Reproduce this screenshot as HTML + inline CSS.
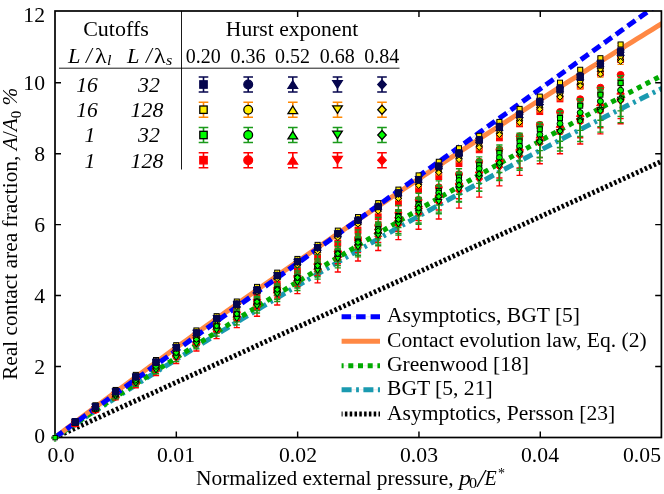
<!DOCTYPE html>
<html><head><meta charset="utf-8"><title>chart</title>
<style>
html,body{margin:0;padding:0;background:#fff;}
body{width:664px;height:494px;position:relative;overflow:hidden;font-family:"Liberation Serif",serif;color:#000;}
.t{position:absolute;white-space:nowrap;line-height:1;font-family:"Liberation Serif",serif;}
#tx{position:absolute;left:0;top:0;width:664px;height:494px;filter:grayscale(100%);}
.sub{font-size:70%;position:relative;top:0.28em;line-height:0;}
.sup{font-size:70%;position:relative;top:-0.45em;line-height:0;}
</style></head><body>
<svg width="664" height="494" viewBox="0 0 664 494" style="position:absolute;left:0;top:0">
<defs><clipPath id="cp"><rect x="54.2" y="10.2" width="607.6" height="428.2"/></clipPath></defs>
<rect x="0" y="0" width="664" height="494" fill="#fff"/>
<g clip-path="url(#cp)" fill="none">
<polyline points="55.00,437.50 60.06,435.17 65.12,432.84 70.18,430.52 75.24,428.20 80.30,425.88 85.36,423.57 90.42,421.26 95.48,418.96 100.54,416.65 105.60,414.35 110.66,412.05 115.72,409.75 120.78,407.46 125.84,405.16 130.90,402.87 135.96,400.57 141.02,398.28 146.08,395.99 151.14,393.70 156.20,391.41 161.26,389.12 166.32,386.84 171.38,384.55 176.44,382.26 181.50,379.95 186.56,377.65 191.62,375.34 196.68,373.03 201.74,370.73 206.80,368.42 211.86,366.12 216.92,363.81 221.98,361.51 227.04,359.20 232.10,356.90 237.16,354.59 242.22,352.29 247.28,349.98 252.34,347.68 257.40,345.38 262.46,343.07 267.52,340.77 272.58,338.46 277.64,336.16 282.70,333.86 287.76,331.55 292.82,329.25 297.88,326.95 302.94,324.64 308.00,322.34 313.07,320.04 318.13,317.73 323.19,315.43 328.25,313.12 333.31,310.82 338.37,308.52 343.43,306.21 348.49,303.91 353.55,301.61 358.61,299.30 363.67,297.00 368.73,294.70 373.79,292.39 378.85,290.09 383.91,287.79 388.97,285.48 394.03,283.18 399.09,280.88 404.15,278.58 409.21,276.27 414.27,273.97 419.33,271.67 424.39,269.36 429.45,267.06 434.51,264.76 439.57,262.45 444.63,260.15 449.69,257.85 454.75,255.54 459.81,253.24 464.87,250.94 469.93,248.63 474.99,246.33 480.05,244.03 485.11,241.72 490.17,239.42 495.23,237.12 500.29,234.81 505.35,232.51 510.41,230.21 515.47,227.90 520.53,225.60 525.59,223.30 530.65,220.99 535.71,218.69 540.77,216.39 545.83,214.08 550.89,211.78 555.95,209.48 561.01,207.17 566.07,204.87 571.13,202.57 576.19,200.27 581.25,197.96 586.31,195.66 591.37,193.36 596.43,191.05 601.49,188.75 606.55,186.45 611.61,184.14 616.67,181.84 621.73,179.54 626.79,177.23 631.85,174.93 636.91,172.63 641.97,170.32 647.03,168.02 652.09,165.72 657.15,163.41 662.21,161.11" stroke="#e4e4e4" stroke-width="0.45"/>
<polyline points="55.00,437.50 60.06,434.13 65.12,430.78 70.18,427.44 75.24,424.10 80.30,420.78 85.36,417.47 90.42,414.17 95.48,410.88 100.54,407.59 105.60,404.32 110.66,401.06 115.72,397.80 120.78,394.55 125.84,391.31 130.90,388.08 135.96,384.86 141.02,381.64 146.08,378.43 151.14,375.23 156.20,372.04 161.26,368.86 166.32,365.68 171.38,362.51 176.44,359.35 181.50,356.19 186.56,353.04 191.62,349.90 196.68,346.77 201.74,343.64 206.80,340.53 211.86,337.41 216.92,334.31 221.98,331.21 227.04,328.12 232.10,325.04 237.16,321.96 242.22,318.89 247.28,315.83 252.34,312.77 257.40,309.72 262.46,306.68 267.52,303.65 272.58,300.62 277.64,297.60 282.70,294.59 287.76,291.58 292.82,288.58 297.88,285.59 302.94,282.60 308.00,279.62 313.07,276.65 318.13,273.68 323.19,270.73 328.25,267.77 333.31,264.83 338.37,261.89 343.43,258.96 348.49,256.04 353.55,253.12 358.61,250.21 363.67,247.31 368.73,244.41 373.79,241.52 378.85,238.64 383.91,235.77 388.97,232.90 394.03,230.04 399.09,227.18 404.15,224.33 409.21,221.49 414.27,218.66 419.33,215.83 424.39,213.01 429.45,210.20 434.51,207.39 439.57,204.59 444.63,201.80 449.69,199.01 454.75,196.23 459.81,193.46 464.87,190.70 469.93,187.94 474.99,185.19 480.05,182.44 485.11,179.71 490.17,176.97 495.23,174.25 500.29,171.53 505.35,168.82 510.41,166.12 515.47,163.43 520.53,160.74 525.59,158.05 530.65,155.38 535.71,152.71 540.77,150.05 545.83,147.39 550.89,144.75 555.95,142.10 561.01,139.47 566.07,136.84 571.13,134.22 576.19,131.61 581.25,129.00 586.31,126.40 591.37,123.81 596.43,121.22 601.49,118.65 606.55,116.07 611.61,113.51 616.67,110.95 621.73,108.40 626.79,105.85 631.85,103.32 636.91,100.79 641.97,98.26 647.03,95.75 652.09,93.24 657.15,90.73 662.21,88.24" stroke="#e4e4e4" stroke-width="0.45"/>
<polyline points="55.00,437.50 60.06,434.07 65.12,430.65 70.18,427.24 75.24,423.84 80.30,420.45 85.36,417.07 90.42,413.70 95.48,410.33 100.54,406.98 105.60,403.63 110.66,400.30 115.72,396.97 120.78,393.64 125.84,390.33 130.90,387.02 135.96,383.72 141.02,380.43 146.08,377.15 151.14,373.87 156.20,370.60 161.26,367.33 166.32,364.07 171.38,360.82 176.44,357.58 181.50,354.34 186.56,351.11 191.62,347.89 196.68,344.67 201.74,341.46 206.80,338.25 211.86,335.05 216.92,331.86 221.98,328.67 227.04,325.50 232.10,322.32 237.16,319.16 242.22,315.99 247.28,312.84 252.34,309.69 257.40,306.55 262.46,303.42 267.52,300.29 272.58,297.16 277.64,294.05 282.70,290.94 287.76,287.83 292.82,284.74 297.88,281.64 302.94,278.56 308.00,275.48 313.07,272.41 318.13,269.34 323.19,266.28 328.25,263.22 333.31,260.18 338.37,257.13 343.43,254.10 348.49,251.07 353.55,248.05 358.61,245.03 363.67,242.02 368.73,239.01 373.79,236.01 378.85,233.02 383.91,230.04 388.97,227.06 394.03,224.08 399.09,221.11 404.15,218.15 409.21,215.20 414.27,212.25 419.33,209.31 424.39,206.37 429.45,203.44 434.51,200.52 439.57,197.60 444.63,194.69 449.69,191.78 454.75,188.88 459.81,185.99 464.87,183.10 469.93,180.22 474.99,177.34 480.05,174.48 485.11,171.61 490.17,168.76 495.23,165.91 500.29,163.06 505.35,160.23 510.41,157.40 515.47,154.57 520.53,151.75 525.59,148.94 530.65,146.13 535.71,143.33 540.77,140.54 545.83,137.75 550.89,134.97 555.95,132.19 561.01,129.42 566.07,126.66 571.13,123.90 576.19,121.15 581.25,118.41 586.31,115.67 591.37,112.94 596.43,110.21 601.49,107.49 606.55,104.78 611.61,102.07 616.67,99.37 621.73,96.67 626.79,93.98 631.85,91.30 636.91,88.62 641.97,85.95 647.03,83.29 652.09,80.63 657.15,77.98 662.21,75.33" stroke="#e4e4e4" stroke-width="0.45"/>
<polyline points="55.00,437.50 60.06,433.84 65.12,430.18 70.18,426.52 75.24,422.87 80.30,419.22 85.36,415.58 90.42,411.94 95.48,408.30 100.54,404.66 105.60,401.03 110.66,397.39 115.72,393.76 120.78,390.13 125.84,386.51 130.90,382.88 135.96,379.26 141.02,375.63 146.08,372.01 151.14,368.39 156.20,364.76 161.26,361.14 166.32,357.52 171.38,353.90 176.44,350.28 181.50,346.64 186.56,343.00 191.62,339.36 196.68,335.73 201.74,332.09 206.80,328.45 211.86,324.81 216.92,321.17 221.98,317.54 227.04,313.90 232.10,310.26 237.16,306.63 242.22,302.99 247.28,299.35 252.34,295.72 257.40,292.08 262.46,288.44 267.52,284.81 272.58,281.17 277.64,277.53 282.70,273.90 287.76,270.26 292.82,266.63 297.88,262.99 302.94,259.35 308.00,255.72 313.07,252.08 318.13,248.45 323.19,244.81 328.25,241.17 333.31,237.54 338.37,233.90 343.43,230.27 348.49,226.63 353.55,222.99 358.61,219.36 363.67,215.72 368.73,212.09 373.79,208.45 378.85,204.82 383.91,201.18 388.97,197.54 394.03,193.91 399.09,190.27 404.15,186.64 409.21,183.00 414.27,179.37 419.33,175.73 424.39,172.09 429.45,168.46 434.51,164.82 439.57,161.19 444.63,157.55 449.69,153.92 454.75,150.28 459.81,146.64 464.87,143.01 469.93,139.37 474.99,135.74 480.05,132.10 485.11,128.47 490.17,124.83 495.23,121.20 500.29,117.56 505.35,113.92 510.41,110.29 515.47,106.65 520.53,103.02 525.59,99.38 530.65,95.75 535.71,92.11 540.77,88.47 545.83,84.84 550.89,81.20 555.95,77.57 561.01,73.93 566.07,70.30 571.13,66.66 576.19,63.02 581.25,59.39 586.31,55.75 591.37,52.12 596.43,48.48 601.49,44.85 606.55,41.21 611.61,37.58 616.67,33.94 621.73,30.30 626.79,26.67 631.85,23.03 636.91,19.40 641.97,15.76 647.03,12.13 652.09,8.49 657.15,4.85 662.21,1.22" stroke="#b8b8b8" stroke-width="0.45"/>
<polyline points="55.00,437.50 60.06,435.17 65.12,432.84 70.18,430.52 75.24,428.20 80.30,425.88 85.36,423.57 90.42,421.26 95.48,418.96 100.54,416.65 105.60,414.35 110.66,412.05 115.72,409.75 120.78,407.46 125.84,405.16 130.90,402.87 135.96,400.57 141.02,398.28 146.08,395.99 151.14,393.70 156.20,391.41 161.26,389.12 166.32,386.84 171.38,384.55 176.44,382.26 181.50,379.95 186.56,377.65 191.62,375.34 196.68,373.03 201.74,370.73 206.80,368.42 211.86,366.12 216.92,363.81 221.98,361.51 227.04,359.20 232.10,356.90 237.16,354.59 242.22,352.29 247.28,349.98 252.34,347.68 257.40,345.38 262.46,343.07 267.52,340.77 272.58,338.46 277.64,336.16 282.70,333.86 287.76,331.55 292.82,329.25 297.88,326.95 302.94,324.64 308.00,322.34 313.07,320.04 318.13,317.73 323.19,315.43 328.25,313.12 333.31,310.82 338.37,308.52 343.43,306.21 348.49,303.91 353.55,301.61 358.61,299.30 363.67,297.00 368.73,294.70 373.79,292.39 378.85,290.09 383.91,287.79 388.97,285.48 394.03,283.18 399.09,280.88 404.15,278.58 409.21,276.27 414.27,273.97 419.33,271.67 424.39,269.36 429.45,267.06 434.51,264.76 439.57,262.45 444.63,260.15 449.69,257.85 454.75,255.54 459.81,253.24 464.87,250.94 469.93,248.63 474.99,246.33 480.05,244.03 485.11,241.72 490.17,239.42 495.23,237.12 500.29,234.81 505.35,232.51 510.41,230.21 515.47,227.90 520.53,225.60 525.59,223.30 530.65,220.99 535.71,218.69 540.77,216.39 545.83,214.08 550.89,211.78 555.95,209.48 561.01,207.17 566.07,204.87 571.13,202.57 576.19,200.27 581.25,197.96 586.31,195.66 591.37,193.36 596.43,191.05 601.49,188.75 606.55,186.45 611.61,184.14 616.67,181.84 621.73,179.54 626.79,177.23 631.85,174.93 636.91,172.63 641.97,170.32 647.03,168.02 652.09,165.72 657.15,163.41 662.21,161.11" stroke="#000" stroke-width="5" stroke-dasharray="2.5 2.3"/>
<polyline points="55.00,437.50 60.06,434.13 65.12,430.78 70.18,427.44 75.24,424.10 80.30,420.78 85.36,417.47 90.42,414.17 95.48,410.88 100.54,407.59 105.60,404.32 110.66,401.06 115.72,397.80 120.78,394.55 125.84,391.31 130.90,388.08 135.96,384.86 141.02,381.64 146.08,378.43 151.14,375.23 156.20,372.04 161.26,368.86 166.32,365.68 171.38,362.51 176.44,359.35 181.50,356.19 186.56,353.04 191.62,349.90 196.68,346.77 201.74,343.64 206.80,340.53 211.86,337.41 216.92,334.31 221.98,331.21 227.04,328.12 232.10,325.04 237.16,321.96 242.22,318.89 247.28,315.83 252.34,312.77 257.40,309.72 262.46,306.68 267.52,303.65 272.58,300.62 277.64,297.60 282.70,294.59 287.76,291.58 292.82,288.58 297.88,285.59 302.94,282.60 308.00,279.62 313.07,276.65 318.13,273.68 323.19,270.73 328.25,267.77 333.31,264.83 338.37,261.89 343.43,258.96 348.49,256.04 353.55,253.12 358.61,250.21 363.67,247.31 368.73,244.41 373.79,241.52 378.85,238.64 383.91,235.77 388.97,232.90 394.03,230.04 399.09,227.18 404.15,224.33 409.21,221.49 414.27,218.66 419.33,215.83 424.39,213.01 429.45,210.20 434.51,207.39 439.57,204.59 444.63,201.80 449.69,199.01 454.75,196.23 459.81,193.46 464.87,190.70 469.93,187.94 474.99,185.19 480.05,182.44 485.11,179.71 490.17,176.97 495.23,174.25 500.29,171.53 505.35,168.82 510.41,166.12 515.47,163.43 520.53,160.74 525.59,158.05 530.65,155.38 535.71,152.71 540.77,150.05 545.83,147.39 550.89,144.75 555.95,142.10 561.01,139.47 566.07,136.84 571.13,134.22 576.19,131.61 581.25,129.00 586.31,126.40 591.37,123.81 596.43,121.22 601.49,118.65 606.55,116.07 611.61,113.51 616.67,110.95 621.73,108.40 626.79,105.85 631.85,103.32 636.91,100.79 641.97,98.26 647.03,95.75 652.09,93.24 657.15,90.73 662.21,88.24" stroke="#1a9ab0" stroke-width="5" stroke-dasharray="10 4.5 2.8 4.5"/>
<polyline points="55.00,437.50 60.06,434.07 65.12,430.65 70.18,427.24 75.24,423.84 80.30,420.45 85.36,417.07 90.42,413.70 95.48,410.33 100.54,406.98 105.60,403.63 110.66,400.30 115.72,396.97 120.78,393.64 125.84,390.33 130.90,387.02 135.96,383.72 141.02,380.43 146.08,377.15 151.14,373.87 156.20,370.60 161.26,367.33 166.32,364.07 171.38,360.82 176.44,357.58 181.50,354.34 186.56,351.11 191.62,347.89 196.68,344.67 201.74,341.46 206.80,338.25 211.86,335.05 216.92,331.86 221.98,328.67 227.04,325.50 232.10,322.32 237.16,319.16 242.22,315.99 247.28,312.84 252.34,309.69 257.40,306.55 262.46,303.42 267.52,300.29 272.58,297.16 277.64,294.05 282.70,290.94 287.76,287.83 292.82,284.74 297.88,281.64 302.94,278.56 308.00,275.48 313.07,272.41 318.13,269.34 323.19,266.28 328.25,263.22 333.31,260.18 338.37,257.13 343.43,254.10 348.49,251.07 353.55,248.05 358.61,245.03 363.67,242.02 368.73,239.01 373.79,236.01 378.85,233.02 383.91,230.04 388.97,227.06 394.03,224.08 399.09,221.11 404.15,218.15 409.21,215.20 414.27,212.25 419.33,209.31 424.39,206.37 429.45,203.44 434.51,200.52 439.57,197.60 444.63,194.69 449.69,191.78 454.75,188.88 459.81,185.99 464.87,183.10 469.93,180.22 474.99,177.34 480.05,174.48 485.11,171.61 490.17,168.76 495.23,165.91 500.29,163.06 505.35,160.23 510.41,157.40 515.47,154.57 520.53,151.75 525.59,148.94 530.65,146.13 535.71,143.33 540.77,140.54 545.83,137.75 550.89,134.97 555.95,132.19 561.01,129.42 566.07,126.66 571.13,123.90 576.19,121.15 581.25,118.41 586.31,115.67 591.37,112.94 596.43,110.21 601.49,107.49 606.55,104.78 611.61,102.07 616.67,99.37 621.73,96.67 626.79,93.98 631.85,91.30 636.91,88.62 641.97,85.95 647.03,83.29 652.09,80.63 657.15,77.98 662.21,75.33" stroke="#00aa00" stroke-width="5" stroke-dasharray="5 4.7"/>
<polyline points="55.00,437.50 60.06,433.65 65.12,429.81 70.18,425.98 75.24,422.16 80.30,418.36 85.36,414.56 90.42,410.76 95.48,406.98 100.54,403.21 105.60,399.44 110.66,395.68 115.72,391.93 120.78,388.19 125.84,384.45 130.90,380.73 135.96,377.00 141.02,373.29 146.08,369.58 151.14,365.88 156.20,362.19 161.26,358.50 166.32,354.82 171.38,351.14 176.44,347.48 181.50,343.81 186.56,340.16 191.62,336.51 196.68,332.87 201.74,329.23 206.80,325.60 211.86,321.98 216.92,318.36 221.98,314.75 227.04,311.14 232.10,307.54 237.16,303.95 242.22,300.36 247.28,296.78 252.34,293.20 257.40,289.63 262.46,286.07 267.52,282.51 272.58,278.96 277.64,275.42 282.70,271.88 287.76,268.34 292.82,264.82 297.88,261.30 302.94,257.78 308.00,254.27 313.07,250.77 318.13,247.27 323.19,243.78 328.25,240.29 333.31,236.81 338.37,233.34 343.43,229.87 348.49,226.41 353.55,222.96 358.61,219.51 363.67,216.06 368.73,212.62 373.79,209.19 378.85,205.77 383.91,202.35 388.97,198.93 394.03,195.52 399.09,192.12 404.15,188.73 409.21,185.33 414.27,181.95 419.33,178.57 424.39,175.20 429.45,171.83 434.51,168.47 439.57,165.12 444.63,161.77 449.69,158.43 454.75,155.09 459.81,151.76 464.87,148.43 469.93,145.11 474.99,141.80 480.05,138.49 485.11,135.19 490.17,131.90 495.23,128.61 500.29,125.33 505.35,122.05 510.41,118.78 515.47,115.51 520.53,112.25 525.59,109.00 530.65,105.75 535.71,102.51 540.77,99.27 545.83,96.04 550.89,92.82 555.95,89.60 561.01,86.39 566.07,83.18 571.13,79.98 576.19,76.79 581.25,73.60 586.31,70.42 591.37,67.24 596.43,64.07 601.49,60.91 606.55,57.75 611.61,54.59 616.67,51.45 621.73,48.31 626.79,45.17 631.85,42.04 636.91,38.92 641.97,35.80 647.03,32.69 652.09,29.59 657.15,26.49 662.21,23.39" stroke="#ff8844" stroke-width="5"/>
<polyline points="55.00,437.50 60.06,433.84 65.12,430.18 70.18,426.52 75.24,422.87 80.30,419.22 85.36,415.58 90.42,411.94 95.48,408.30 100.54,404.66 105.60,401.03 110.66,397.39 115.72,393.76 120.78,390.13 125.84,386.51 130.90,382.88 135.96,379.26 141.02,375.63 146.08,372.01 151.14,368.39 156.20,364.76 161.26,361.14 166.32,357.52 171.38,353.90 176.44,350.28 181.50,346.64 186.56,343.00 191.62,339.36 196.68,335.73 201.74,332.09 206.80,328.45 211.86,324.81 216.92,321.17 221.98,317.54 227.04,313.90 232.10,310.26 237.16,306.63 242.22,302.99 247.28,299.35 252.34,295.72 257.40,292.08 262.46,288.44 267.52,284.81 272.58,281.17 277.64,277.53 282.70,273.90 287.76,270.26 292.82,266.63 297.88,262.99 302.94,259.35 308.00,255.72 313.07,252.08 318.13,248.45 323.19,244.81 328.25,241.17 333.31,237.54 338.37,233.90 343.43,230.27 348.49,226.63 353.55,222.99 358.61,219.36 363.67,215.72 368.73,212.09 373.79,208.45 378.85,204.82 383.91,201.18 388.97,197.54 394.03,193.91 399.09,190.27 404.15,186.64 409.21,183.00 414.27,179.37 419.33,175.73 424.39,172.09 429.45,168.46 434.51,164.82 439.57,161.19 444.63,157.55 449.69,153.92 454.75,150.28 459.81,146.64 464.87,143.01 469.93,139.37 474.99,135.74 480.05,132.10 485.11,128.47 490.17,124.83 495.23,121.20 500.29,117.56 505.35,113.92 510.41,110.29 515.47,106.65 520.53,103.02 525.59,99.38 530.65,95.75 535.71,92.11 540.77,88.47 545.83,84.84 550.89,81.20 555.95,77.57 561.01,73.93 566.07,70.30 571.13,66.66 576.19,63.02 581.25,59.39 586.31,55.75 591.37,52.12 596.43,48.48 601.49,44.85 606.55,41.21 611.61,37.58 616.67,33.94 621.73,30.30 626.79,26.67 631.85,23.03 636.91,19.40 641.97,15.76 647.03,12.13 652.09,8.49 657.15,4.85 662.21,1.22" stroke="#0000ff" stroke-width="5" stroke-dasharray="9.43 4.96"/>
</g>
<g>
<path d="M95.40 408.16V409.84M92.30 408.16H98.50M92.30 409.84H98.50" stroke="#ff0000" stroke-width="1.4" fill="none"/>
<path d="M115.60 393.59V396.12M112.50 393.59H118.70M112.50 396.12H118.70" stroke="#ff0000" stroke-width="1.4" fill="none"/>
<path d="M135.80 379.22V382.59M132.70 379.22H138.90M132.70 382.59H138.90" stroke="#ff0000" stroke-width="1.4" fill="none"/>
<path d="M156.00 364.92V369.12M152.90 364.92H159.10M152.90 369.12H159.10" stroke="#ff0000" stroke-width="1.4" fill="none"/>
<path d="M176.20 351.05V356.05M173.10 351.05H179.30M173.10 356.05H179.30" stroke="#ff0000" stroke-width="1.4" fill="none"/>
<path d="M196.40 337.02V342.85M193.30 337.02H199.50M193.30 342.85H199.50" stroke="#ff0000" stroke-width="1.4" fill="none"/>
<path d="M216.60 323.34V329.96M213.50 323.34H219.70M213.50 329.96H219.70" stroke="#ff0000" stroke-width="1.4" fill="none"/>
<path d="M236.80 311.02V318.35M233.70 311.02H239.90M233.70 318.35H239.90" stroke="#ff0000" stroke-width="1.4" fill="none"/>
<path d="M257.00 298.42V306.50M253.90 298.42H260.10M253.90 306.50H260.10" stroke="#ff0000" stroke-width="1.4" fill="none"/>
<path d="M277.20 285.65V294.46M274.10 285.65H280.30M274.10 294.46H280.30" stroke="#ff0000" stroke-width="1.4" fill="none"/>
<path d="M297.40 273.26V282.80M294.30 273.26H300.50M294.30 282.80H300.50" stroke="#ff0000" stroke-width="1.4" fill="none"/>
<path d="M317.60 261.32V271.55M314.50 261.32H320.70M314.50 271.55H320.70" stroke="#ff0000" stroke-width="1.4" fill="none"/>
<path d="M337.80 249.00V259.95M334.70 249.00H340.90M334.70 259.95H340.90" stroke="#ff0000" stroke-width="1.4" fill="none"/>
<path d="M358.00 237.09V248.74M354.90 237.09H361.10M354.90 248.74H361.10" stroke="#ff0000" stroke-width="1.4" fill="none"/>
<path d="M378.20 223.99V236.40M375.10 223.99H381.30M375.10 236.40H381.30" stroke="#ff0000" stroke-width="1.4" fill="none"/>
<path d="M398.40 211.39V224.54M395.30 211.39H401.50M395.30 224.54H401.50" stroke="#ff0000" stroke-width="1.4" fill="none"/>
<path d="M418.60 198.58V212.47M415.50 198.58H421.70M415.50 212.47H421.70" stroke="#ff0000" stroke-width="1.4" fill="none"/>
<path d="M438.80 186.41V201.01M435.70 186.41H441.90M435.70 201.01H441.90" stroke="#ff0000" stroke-width="1.4" fill="none"/>
<path d="M459.00 174.27V189.58M455.90 174.27H462.10M455.90 189.58H462.10" stroke="#ff0000" stroke-width="1.4" fill="none"/>
<path d="M479.20 161.94V177.96M476.10 161.94H482.30M476.10 177.96H482.30" stroke="#ff0000" stroke-width="1.4" fill="none"/>
<path d="M499.40 149.53V166.27M496.30 149.53H502.50M496.30 166.27H502.50" stroke="#ff0000" stroke-width="1.4" fill="none"/>
<path d="M519.60 138.34V155.74M516.50 138.34H522.70M516.50 155.74H522.70" stroke="#ff0000" stroke-width="1.4" fill="none"/>
<path d="M539.80 126.01V144.12M536.70 126.01H542.90M536.70 144.12H542.90" stroke="#ff0000" stroke-width="1.4" fill="none"/>
<path d="M560.00 114.94V133.70M556.90 114.94H563.10M556.90 133.70H563.10" stroke="#ff0000" stroke-width="1.4" fill="none"/>
<path d="M580.20 103.73V123.14M577.10 103.73H583.30M577.10 123.14H583.30" stroke="#ff0000" stroke-width="1.4" fill="none"/>
<path d="M600.40 92.68V112.74M597.30 92.68H603.50M597.30 112.74H603.50" stroke="#ff0000" stroke-width="1.4" fill="none"/>
<path d="M620.60 80.71V101.46M617.50 80.71H623.70M617.50 101.46H623.70" stroke="#ff0000" stroke-width="1.4" fill="none"/>
<path d="M95.40 408.03V410.79M92.30 408.03H98.50M92.30 410.79H98.50" stroke="#ff0000" stroke-width="1.4" fill="none"/>
<path d="M115.60 393.19V397.36M112.50 393.19H118.70M112.50 397.36H118.70" stroke="#ff0000" stroke-width="1.4" fill="none"/>
<path d="M135.80 378.40V383.98M132.70 378.40H138.90M132.70 383.98H138.90" stroke="#ff0000" stroke-width="1.4" fill="none"/>
<path d="M156.00 364.13V371.07M152.90 364.13H159.10M152.90 371.07H159.10" stroke="#ff0000" stroke-width="1.4" fill="none"/>
<path d="M176.20 349.70V358.02M173.10 349.70H179.30M173.10 358.02H179.30" stroke="#ff0000" stroke-width="1.4" fill="none"/>
<path d="M196.40 335.51V345.18M193.30 335.51H199.50M193.30 345.18H199.50" stroke="#ff0000" stroke-width="1.4" fill="none"/>
<path d="M216.60 321.37V332.38M213.50 321.37H219.70M213.50 332.38H219.70" stroke="#ff0000" stroke-width="1.4" fill="none"/>
<path d="M236.80 308.82V321.03M233.70 308.82H239.90M233.70 321.03H239.90" stroke="#ff0000" stroke-width="1.4" fill="none"/>
<path d="M257.00 295.88V309.32M253.90 295.88H260.10M253.90 309.32H260.10" stroke="#ff0000" stroke-width="1.4" fill="none"/>
<path d="M277.20 283.43V298.05M274.10 283.43H280.30M274.10 298.05H280.30" stroke="#ff0000" stroke-width="1.4" fill="none"/>
<path d="M297.40 270.81V286.63M294.30 270.81H300.50M294.30 286.63H300.50" stroke="#ff0000" stroke-width="1.4" fill="none"/>
<path d="M317.60 258.36V275.37M314.50 258.36H320.70M314.50 275.37H320.70" stroke="#ff0000" stroke-width="1.4" fill="none"/>
<path d="M337.80 245.55V263.78M334.70 245.55H340.90M334.70 263.78H340.90" stroke="#ff0000" stroke-width="1.4" fill="none"/>
<path d="M358.00 233.25V252.66M354.90 233.25H361.10M354.90 252.66H361.10" stroke="#ff0000" stroke-width="1.4" fill="none"/>
<path d="M378.20 221.91V242.39M375.10 221.91H381.30M375.10 242.39H381.30" stroke="#ff0000" stroke-width="1.4" fill="none"/>
<path d="M398.40 209.82V231.45M395.30 209.82H401.50M395.30 231.45H401.50" stroke="#ff0000" stroke-width="1.4" fill="none"/>
<path d="M418.60 197.86V220.64M415.50 197.86H421.70M415.50 220.64H421.70" stroke="#ff0000" stroke-width="1.4" fill="none"/>
<path d="M438.80 186.12V210.02M435.70 186.12H441.90M435.70 210.02H441.90" stroke="#ff0000" stroke-width="1.4" fill="none"/>
<path d="M459.00 173.74V198.81M455.90 173.74H462.10M455.90 198.81H462.10" stroke="#ff0000" stroke-width="1.4" fill="none"/>
<path d="M479.20 161.96V188.15M476.10 161.96H482.30M476.10 188.15H482.30" stroke="#ff0000" stroke-width="1.4" fill="none"/>
<path d="M499.40 150.80V178.06M496.30 150.80H502.50M496.30 178.06H502.50" stroke="#ff0000" stroke-width="1.4" fill="none"/>
<path d="M519.60 139.74V168.05M516.50 139.74H522.70M516.50 168.05H522.70" stroke="#ff0000" stroke-width="1.4" fill="none"/>
<path d="M539.80 128.01V157.43M536.70 128.01H542.90M536.70 157.43H542.90" stroke="#ff0000" stroke-width="1.4" fill="none"/>
<path d="M560.00 117.20V147.66M556.90 117.20H563.10M556.90 147.66H563.10" stroke="#ff0000" stroke-width="1.4" fill="none"/>
<path d="M580.20 106.24V137.74M577.10 106.24H583.30M577.10 137.74H583.30" stroke="#ff0000" stroke-width="1.4" fill="none"/>
<path d="M600.40 95.15V127.71M597.30 95.15H603.50M597.30 127.71H603.50" stroke="#ff0000" stroke-width="1.4" fill="none"/>
<path d="M620.60 85.10V118.62M617.50 85.10H623.70M617.50 118.62H623.70" stroke="#ff0000" stroke-width="1.4" fill="none"/>
<path d="M75.20 422.84V424.69M72.10 422.84H78.30M72.10 424.69H78.30" stroke="#ff0000" stroke-width="1.4" fill="none"/>
<path d="M95.40 408.44V412.18M92.30 408.44H98.50M92.30 412.18H98.50" stroke="#ff0000" stroke-width="1.4" fill="none"/>
<path d="M115.60 394.20V399.80M112.50 394.20H118.70M112.50 399.80H118.70" stroke="#ff0000" stroke-width="1.4" fill="none"/>
<path d="M135.80 380.26V387.68M132.70 380.26H138.90M132.70 387.68H138.90" stroke="#ff0000" stroke-width="1.4" fill="none"/>
<path d="M156.00 366.17V375.44M152.90 366.17H159.10M152.90 375.44H159.10" stroke="#ff0000" stroke-width="1.4" fill="none"/>
<path d="M176.20 352.49V363.54M173.10 352.49H179.30M173.10 363.54H179.30" stroke="#ff0000" stroke-width="1.4" fill="none"/>
<path d="M196.40 338.01V350.96M193.30 338.01H199.50M193.30 350.96H199.50" stroke="#ff0000" stroke-width="1.4" fill="none"/>
<path d="M216.60 323.77V338.59M213.50 323.77H219.70M213.50 338.59H219.70" stroke="#ff0000" stroke-width="1.4" fill="none"/>
<path d="M236.80 311.16V327.62M233.70 311.16H239.90M233.70 327.62H239.90" stroke="#ff0000" stroke-width="1.4" fill="none"/>
<path d="M257.00 298.01V316.20M253.90 298.01H260.10M253.90 316.20H260.10" stroke="#ff0000" stroke-width="1.4" fill="none"/>
<path d="M277.20 285.16V305.03M274.10 285.16H280.30M274.10 305.03H280.30" stroke="#ff0000" stroke-width="1.4" fill="none"/>
<path d="M297.40 272.05V293.63M294.30 272.05H300.50M294.30 293.63H300.50" stroke="#ff0000" stroke-width="1.4" fill="none"/>
<path d="M317.60 259.72V282.92M314.50 259.72H320.70M314.50 282.92H320.70" stroke="#ff0000" stroke-width="1.4" fill="none"/>
<path d="M337.80 247.09V271.94M334.70 247.09H340.90M334.70 271.94H340.90" stroke="#ff0000" stroke-width="1.4" fill="none"/>
<path d="M358.00 234.55V261.04M354.90 234.55H361.10M354.90 261.04H361.10" stroke="#ff0000" stroke-width="1.4" fill="none"/>
<path d="M378.20 222.35V250.44M375.10 222.35H381.30M375.10 250.44H381.30" stroke="#ff0000" stroke-width="1.4" fill="none"/>
<path d="M398.40 209.89V239.61M395.30 209.89H401.50M395.30 239.61H401.50" stroke="#ff0000" stroke-width="1.4" fill="none"/>
<path d="M418.60 198.03V229.30M415.50 198.03H421.70M415.50 229.30H421.70" stroke="#ff0000" stroke-width="1.4" fill="none"/>
<path d="M438.80 186.13V218.96M435.70 186.13H441.90M435.70 218.96H441.90" stroke="#ff0000" stroke-width="1.4" fill="none"/>
<path d="M459.00 173.63V208.09M455.90 173.63H462.10M455.90 208.09H462.10" stroke="#ff0000" stroke-width="1.4" fill="none"/>
<path d="M479.20 160.96V197.08M476.10 160.96H482.30M476.10 197.08H482.30" stroke="#ff0000" stroke-width="1.4" fill="none"/>
<path d="M499.40 148.08V185.88M496.30 148.08H502.50M496.30 185.88H502.50" stroke="#ff0000" stroke-width="1.4" fill="none"/>
<path d="M519.60 136.04V175.42M516.50 136.04H522.70M516.50 175.42H522.70" stroke="#ff0000" stroke-width="1.4" fill="none"/>
<path d="M539.80 122.69V163.81M536.70 122.69H542.90M536.70 163.81H542.90" stroke="#ff0000" stroke-width="1.4" fill="none"/>
<path d="M560.00 111.08V153.72M556.90 111.08H563.10M556.90 153.72H563.10" stroke="#ff0000" stroke-width="1.4" fill="none"/>
<path d="M580.20 99.93V144.03M577.10 99.93H583.30M577.10 144.03H583.30" stroke="#ff0000" stroke-width="1.4" fill="none"/>
<path d="M600.40 88.19V133.83M597.30 88.19H603.50M597.30 133.83H603.50" stroke="#ff0000" stroke-width="1.4" fill="none"/>
<path d="M620.60 76.61V123.77M617.50 76.61H623.70M617.50 123.77H623.70" stroke="#ff0000" stroke-width="1.4" fill="none"/>
<rect x="72.30" y="419.94" width="5.80" height="5.80" fill="#ff0000" stroke="#ff0000" stroke-width="1.0"/>
<rect x="92.50" y="405.84" width="5.80" height="5.80" fill="#ff0000" stroke="#ff0000" stroke-width="1.0"/>
<rect x="112.70" y="391.71" width="5.80" height="5.80" fill="#ff0000" stroke="#ff0000" stroke-width="1.0"/>
<rect x="132.90" y="377.82" width="5.80" height="5.80" fill="#ff0000" stroke="#ff0000" stroke-width="1.0"/>
<rect x="153.10" y="363.75" width="5.80" height="5.80" fill="#ff0000" stroke="#ff0000" stroke-width="1.0"/>
<rect x="173.30" y="349.89" width="5.80" height="5.80" fill="#ff0000" stroke="#ff0000" stroke-width="1.0"/>
<rect x="193.50" y="336.16" width="5.80" height="5.80" fill="#ff0000" stroke="#ff0000" stroke-width="1.0"/>
<rect x="213.70" y="322.18" width="5.80" height="5.80" fill="#ff0000" stroke="#ff0000" stroke-width="1.0"/>
<rect x="233.90" y="308.67" width="5.80" height="5.80" fill="#ff0000" stroke="#ff0000" stroke-width="1.0"/>
<rect x="254.10" y="294.77" width="5.80" height="5.80" fill="#ff0000" stroke="#ff0000" stroke-width="1.0"/>
<rect x="274.30" y="281.35" width="5.80" height="5.80" fill="#ff0000" stroke="#ff0000" stroke-width="1.0"/>
<rect x="294.50" y="267.76" width="5.80" height="5.80" fill="#ff0000" stroke="#ff0000" stroke-width="1.0"/>
<rect x="314.70" y="254.00" width="5.80" height="5.80" fill="#ff0000" stroke="#ff0000" stroke-width="1.0"/>
<rect x="334.90" y="240.21" width="5.80" height="5.80" fill="#ff0000" stroke="#ff0000" stroke-width="1.0"/>
<rect x="355.10" y="227.34" width="5.80" height="5.80" fill="#ff0000" stroke="#ff0000" stroke-width="1.0"/>
<rect x="375.30" y="213.88" width="5.80" height="5.80" fill="#ff0000" stroke="#ff0000" stroke-width="1.0"/>
<rect x="395.50" y="200.19" width="5.80" height="5.80" fill="#ff0000" stroke="#ff0000" stroke-width="1.0"/>
<rect x="415.70" y="186.59" width="5.80" height="5.80" fill="#ff0000" stroke="#ff0000" stroke-width="1.0"/>
<rect x="435.90" y="173.72" width="5.80" height="5.80" fill="#ff0000" stroke="#ff0000" stroke-width="1.0"/>
<rect x="456.10" y="160.74" width="5.80" height="5.80" fill="#ff0000" stroke="#ff0000" stroke-width="1.0"/>
<rect x="476.30" y="146.97" width="5.80" height="5.80" fill="#ff0000" stroke="#ff0000" stroke-width="1.0"/>
<rect x="496.50" y="134.99" width="5.80" height="5.80" fill="#ff0000" stroke="#ff0000" stroke-width="1.0"/>
<rect x="516.70" y="120.98" width="5.80" height="5.80" fill="#ff0000" stroke="#ff0000" stroke-width="1.0"/>
<rect x="536.90" y="108.74" width="5.80" height="5.80" fill="#ff0000" stroke="#ff0000" stroke-width="1.0"/>
<rect x="557.10" y="96.04" width="5.80" height="5.80" fill="#ff0000" stroke="#ff0000" stroke-width="1.0"/>
<rect x="577.30" y="83.24" width="5.80" height="5.80" fill="#ff0000" stroke="#ff0000" stroke-width="1.0"/>
<rect x="597.50" y="70.17" width="5.80" height="5.80" fill="#ff0000" stroke="#ff0000" stroke-width="1.0"/>
<rect x="617.70" y="56.67" width="5.80" height="5.80" fill="#ff0000" stroke="#ff0000" stroke-width="1.0"/>
<circle cx="75.20" cy="423.44" r="3.42" fill="#ff0000" stroke="#ff0000" stroke-width="1.0"/>
<circle cx="95.40" cy="409.89" r="3.42" fill="#ff0000" stroke="#ff0000" stroke-width="1.0"/>
<circle cx="115.60" cy="396.40" r="3.42" fill="#ff0000" stroke="#ff0000" stroke-width="1.0"/>
<circle cx="135.80" cy="383.02" r="3.42" fill="#ff0000" stroke="#ff0000" stroke-width="1.0"/>
<circle cx="156.00" cy="369.60" r="3.42" fill="#ff0000" stroke="#ff0000" stroke-width="1.0"/>
<circle cx="176.20" cy="356.41" r="3.42" fill="#ff0000" stroke="#ff0000" stroke-width="1.0"/>
<circle cx="196.40" cy="343.15" r="3.42" fill="#ff0000" stroke="#ff0000" stroke-width="1.0"/>
<circle cx="216.60" cy="329.87" r="3.42" fill="#ff0000" stroke="#ff0000" stroke-width="1.0"/>
<circle cx="236.80" cy="316.46" r="3.42" fill="#ff0000" stroke="#ff0000" stroke-width="1.0"/>
<circle cx="257.00" cy="303.44" r="3.42" fill="#ff0000" stroke="#ff0000" stroke-width="1.0"/>
<circle cx="277.20" cy="290.41" r="3.42" fill="#ff0000" stroke="#ff0000" stroke-width="1.0"/>
<circle cx="297.40" cy="277.20" r="3.42" fill="#ff0000" stroke="#ff0000" stroke-width="1.0"/>
<circle cx="317.60" cy="264.28" r="3.42" fill="#ff0000" stroke="#ff0000" stroke-width="1.0"/>
<circle cx="337.80" cy="251.44" r="3.42" fill="#ff0000" stroke="#ff0000" stroke-width="1.0"/>
<circle cx="358.00" cy="238.14" r="3.42" fill="#ff0000" stroke="#ff0000" stroke-width="1.0"/>
<circle cx="378.20" cy="225.35" r="3.42" fill="#ff0000" stroke="#ff0000" stroke-width="1.0"/>
<circle cx="398.40" cy="212.93" r="3.42" fill="#ff0000" stroke="#ff0000" stroke-width="1.0"/>
<circle cx="418.60" cy="199.86" r="3.42" fill="#ff0000" stroke="#ff0000" stroke-width="1.0"/>
<circle cx="438.80" cy="187.18" r="3.42" fill="#ff0000" stroke="#ff0000" stroke-width="1.0"/>
<circle cx="459.00" cy="174.14" r="3.42" fill="#ff0000" stroke="#ff0000" stroke-width="1.0"/>
<circle cx="479.20" cy="161.66" r="3.42" fill="#ff0000" stroke="#ff0000" stroke-width="1.0"/>
<circle cx="499.40" cy="149.58" r="3.42" fill="#ff0000" stroke="#ff0000" stroke-width="1.0"/>
<circle cx="519.60" cy="136.22" r="3.42" fill="#ff0000" stroke="#ff0000" stroke-width="1.0"/>
<circle cx="539.80" cy="124.79" r="3.42" fill="#ff0000" stroke="#ff0000" stroke-width="1.0"/>
<circle cx="560.00" cy="111.99" r="3.42" fill="#ff0000" stroke="#ff0000" stroke-width="1.0"/>
<circle cx="580.20" cy="99.14" r="3.42" fill="#ff0000" stroke="#ff0000" stroke-width="1.0"/>
<circle cx="600.40" cy="87.63" r="3.42" fill="#ff0000" stroke="#ff0000" stroke-width="1.0"/>
<circle cx="620.60" cy="74.87" r="3.42" fill="#ff0000" stroke="#ff0000" stroke-width="1.0"/>
<path d="M75.20 420.42L78.97 426.36L71.43 426.36Z" fill="#ff0000" stroke="#ff0000" stroke-width="1.0" stroke-linejoin="miter"/>
<path d="M95.40 406.10L99.17 412.05L91.63 412.05Z" fill="#ff0000" stroke="#ff0000" stroke-width="1.0" stroke-linejoin="miter"/>
<path d="M115.60 391.95L119.37 397.90L111.83 397.90Z" fill="#ff0000" stroke="#ff0000" stroke-width="1.0" stroke-linejoin="miter"/>
<path d="M135.80 378.00L139.57 383.95L132.03 383.95Z" fill="#ff0000" stroke="#ff0000" stroke-width="1.0" stroke-linejoin="miter"/>
<path d="M156.00 364.12L159.77 370.06L152.23 370.06Z" fill="#ff0000" stroke="#ff0000" stroke-width="1.0" stroke-linejoin="miter"/>
<path d="M176.20 350.65L179.97 356.59L172.43 356.59Z" fill="#ff0000" stroke="#ff0000" stroke-width="1.0" stroke-linejoin="miter"/>
<path d="M196.40 337.03L200.17 342.98L192.63 342.98Z" fill="#ff0000" stroke="#ff0000" stroke-width="1.0" stroke-linejoin="miter"/>
<path d="M216.60 323.75L220.37 329.69L212.83 329.69Z" fill="#ff0000" stroke="#ff0000" stroke-width="1.0" stroke-linejoin="miter"/>
<path d="M236.80 311.79L240.57 317.73L233.03 317.73Z" fill="#ff0000" stroke="#ff0000" stroke-width="1.0" stroke-linejoin="miter"/>
<path d="M257.00 299.56L260.77 305.50L253.23 305.50Z" fill="#ff0000" stroke="#ff0000" stroke-width="1.0" stroke-linejoin="miter"/>
<path d="M277.20 287.16L280.97 293.10L273.43 293.10Z" fill="#ff0000" stroke="#ff0000" stroke-width="1.0" stroke-linejoin="miter"/>
<path d="M297.40 275.13L301.17 281.07L293.63 281.07Z" fill="#ff0000" stroke="#ff0000" stroke-width="1.0" stroke-linejoin="miter"/>
<path d="M317.60 263.53L321.37 269.48L313.83 269.48Z" fill="#ff0000" stroke="#ff0000" stroke-width="1.0" stroke-linejoin="miter"/>
<path d="M337.80 251.57L341.57 257.52L334.03 257.52Z" fill="#ff0000" stroke="#ff0000" stroke-width="1.0" stroke-linejoin="miter"/>
<path d="M358.00 240.02L361.77 245.96L354.23 245.96Z" fill="#ff0000" stroke="#ff0000" stroke-width="1.0" stroke-linejoin="miter"/>
<path d="M378.20 227.30L381.97 233.24L374.43 233.24Z" fill="#ff0000" stroke="#ff0000" stroke-width="1.0" stroke-linejoin="miter"/>
<path d="M398.40 215.06L402.17 221.01L394.63 221.01Z" fill="#ff0000" stroke="#ff0000" stroke-width="1.0" stroke-linejoin="miter"/>
<path d="M418.60 202.63L422.37 208.57L414.83 208.57Z" fill="#ff0000" stroke="#ff0000" stroke-width="1.0" stroke-linejoin="miter"/>
<path d="M438.80 190.81L442.57 196.76L435.03 196.76Z" fill="#ff0000" stroke="#ff0000" stroke-width="1.0" stroke-linejoin="miter"/>
<path d="M459.00 179.03L462.77 184.97L455.23 184.97Z" fill="#ff0000" stroke="#ff0000" stroke-width="1.0" stroke-linejoin="miter"/>
<path d="M479.20 167.05L482.97 173.00L475.43 173.00Z" fill="#ff0000" stroke="#ff0000" stroke-width="1.0" stroke-linejoin="miter"/>
<path d="M499.40 155.00L503.17 160.95L495.63 160.95Z" fill="#ff0000" stroke="#ff0000" stroke-width="1.0" stroke-linejoin="miter"/>
<path d="M519.60 144.14L523.37 150.09L515.83 150.09Z" fill="#ff0000" stroke="#ff0000" stroke-width="1.0" stroke-linejoin="miter"/>
<path d="M539.80 132.16L543.57 138.11L536.03 138.11Z" fill="#ff0000" stroke="#ff0000" stroke-width="1.0" stroke-linejoin="miter"/>
<path d="M560.00 121.42L563.77 127.36L556.23 127.36Z" fill="#ff0000" stroke="#ff0000" stroke-width="1.0" stroke-linejoin="miter"/>
<path d="M580.20 110.53L583.97 116.48L576.43 116.48Z" fill="#ff0000" stroke="#ff0000" stroke-width="1.0" stroke-linejoin="miter"/>
<path d="M600.40 99.81L604.17 105.76L596.63 105.76Z" fill="#ff0000" stroke="#ff0000" stroke-width="1.0" stroke-linejoin="miter"/>
<path d="M620.60 88.19L624.37 94.13L616.83 94.13Z" fill="#ff0000" stroke="#ff0000" stroke-width="1.0" stroke-linejoin="miter"/>
<path d="M75.20 426.57L78.97 420.62L71.43 420.62Z" fill="#ff0000" stroke="#ff0000" stroke-width="1.0" stroke-linejoin="miter"/>
<path d="M95.40 412.31L99.17 406.36L91.63 406.36Z" fill="#ff0000" stroke="#ff0000" stroke-width="1.0" stroke-linejoin="miter"/>
<path d="M115.60 398.17L119.37 392.23L111.83 392.23Z" fill="#ff0000" stroke="#ff0000" stroke-width="1.0" stroke-linejoin="miter"/>
<path d="M135.80 384.09L139.57 378.15L132.03 378.15Z" fill="#ff0000" stroke="#ff0000" stroke-width="1.0" stroke-linejoin="miter"/>
<path d="M156.00 370.50L159.77 364.55L152.23 364.55Z" fill="#ff0000" stroke="#ff0000" stroke-width="1.0" stroke-linejoin="miter"/>
<path d="M176.20 356.76L179.97 350.81L172.43 350.81Z" fill="#ff0000" stroke="#ff0000" stroke-width="1.0" stroke-linejoin="miter"/>
<path d="M196.40 343.25L200.17 337.30L192.63 337.30Z" fill="#ff0000" stroke="#ff0000" stroke-width="1.0" stroke-linejoin="miter"/>
<path d="M216.60 329.78L220.37 323.83L212.83 323.83Z" fill="#ff0000" stroke="#ff0000" stroke-width="1.0" stroke-linejoin="miter"/>
<path d="M236.80 317.82L240.57 311.88L233.03 311.88Z" fill="#ff0000" stroke="#ff0000" stroke-width="1.0" stroke-linejoin="miter"/>
<path d="M257.00 305.50L260.77 299.55L253.23 299.55Z" fill="#ff0000" stroke="#ff0000" stroke-width="1.0" stroke-linejoin="miter"/>
<path d="M277.20 293.64L280.97 287.69L273.43 287.69Z" fill="#ff0000" stroke="#ff0000" stroke-width="1.0" stroke-linejoin="miter"/>
<path d="M297.40 281.62L301.17 275.68L293.63 275.68Z" fill="#ff0000" stroke="#ff0000" stroke-width="1.0" stroke-linejoin="miter"/>
<path d="M317.60 269.77L321.37 263.82L313.83 263.82Z" fill="#ff0000" stroke="#ff0000" stroke-width="1.0" stroke-linejoin="miter"/>
<path d="M337.80 257.57L341.57 251.62L334.03 251.62Z" fill="#ff0000" stroke="#ff0000" stroke-width="1.0" stroke-linejoin="miter"/>
<path d="M358.00 245.86L361.77 239.91L354.23 239.91Z" fill="#ff0000" stroke="#ff0000" stroke-width="1.0" stroke-linejoin="miter"/>
<path d="M378.20 235.05L381.97 229.10L374.43 229.10Z" fill="#ff0000" stroke="#ff0000" stroke-width="1.0" stroke-linejoin="miter"/>
<path d="M398.40 223.54L402.17 217.59L394.63 217.59Z" fill="#ff0000" stroke="#ff0000" stroke-width="1.0" stroke-linejoin="miter"/>
<path d="M418.60 212.15L422.37 206.21L414.83 206.21Z" fill="#ff0000" stroke="#ff0000" stroke-width="1.0" stroke-linejoin="miter"/>
<path d="M438.80 200.97L442.57 195.03L435.03 195.03Z" fill="#ff0000" stroke="#ff0000" stroke-width="1.0" stroke-linejoin="miter"/>
<path d="M459.00 189.18L462.77 183.23L455.23 183.23Z" fill="#ff0000" stroke="#ff0000" stroke-width="1.0" stroke-linejoin="miter"/>
<path d="M479.20 177.95L482.97 172.01L475.43 172.01Z" fill="#ff0000" stroke="#ff0000" stroke-width="1.0" stroke-linejoin="miter"/>
<path d="M499.40 167.33L503.17 161.38L495.63 161.38Z" fill="#ff0000" stroke="#ff0000" stroke-width="1.0" stroke-linejoin="miter"/>
<path d="M519.60 156.79L523.37 150.85L515.83 150.85Z" fill="#ff0000" stroke="#ff0000" stroke-width="1.0" stroke-linejoin="miter"/>
<path d="M539.80 145.62L543.57 139.67L536.03 139.67Z" fill="#ff0000" stroke="#ff0000" stroke-width="1.0" stroke-linejoin="miter"/>
<path d="M560.00 135.33L563.77 129.39L556.23 129.39Z" fill="#ff0000" stroke="#ff0000" stroke-width="1.0" stroke-linejoin="miter"/>
<path d="M580.20 124.89L583.97 118.94L576.43 118.94Z" fill="#ff0000" stroke="#ff0000" stroke-width="1.0" stroke-linejoin="miter"/>
<path d="M600.40 114.33L604.17 108.38L596.63 108.38Z" fill="#ff0000" stroke="#ff0000" stroke-width="1.0" stroke-linejoin="miter"/>
<path d="M620.60 104.76L624.37 98.82L616.83 98.82Z" fill="#ff0000" stroke="#ff0000" stroke-width="1.0" stroke-linejoin="miter"/>
<path d="M75.20 420.23L78.53 423.77L75.20 427.30L71.87 423.77Z" fill="#ff0000" stroke="#ff0000" stroke-width="1.0"/>
<path d="M95.40 406.77L98.73 410.31L95.40 413.85L92.07 410.31Z" fill="#ff0000" stroke="#ff0000" stroke-width="1.0"/>
<path d="M115.60 393.46L118.93 397.00L115.60 400.54L112.27 397.00Z" fill="#ff0000" stroke="#ff0000" stroke-width="1.0"/>
<path d="M135.80 380.43L139.14 383.97L135.80 387.51L132.47 383.97Z" fill="#ff0000" stroke="#ff0000" stroke-width="1.0"/>
<path d="M156.00 367.27L159.34 370.80L156.00 374.34L152.66 370.80Z" fill="#ff0000" stroke="#ff0000" stroke-width="1.0"/>
<path d="M176.20 354.48L179.53 358.01L176.20 361.55L172.86 358.01Z" fill="#ff0000" stroke="#ff0000" stroke-width="1.0"/>
<path d="M196.40 340.95L199.74 344.49L196.40 348.02L193.06 344.49Z" fill="#ff0000" stroke="#ff0000" stroke-width="1.0"/>
<path d="M216.60 327.64L219.94 331.18L216.60 334.72L213.26 331.18Z" fill="#ff0000" stroke="#ff0000" stroke-width="1.0"/>
<path d="M236.80 315.85L240.13 319.39L236.80 322.93L233.46 319.39Z" fill="#ff0000" stroke="#ff0000" stroke-width="1.0"/>
<path d="M257.00 303.57L260.33 307.10L257.00 310.64L253.66 307.10Z" fill="#ff0000" stroke="#ff0000" stroke-width="1.0"/>
<path d="M277.20 291.56L280.53 295.10L277.20 298.63L273.87 295.10Z" fill="#ff0000" stroke="#ff0000" stroke-width="1.0"/>
<path d="M297.40 279.31L300.73 282.84L297.40 286.38L294.06 282.84Z" fill="#ff0000" stroke="#ff0000" stroke-width="1.0"/>
<path d="M317.60 267.78L320.94 271.32L317.60 274.86L314.27 271.32Z" fill="#ff0000" stroke="#ff0000" stroke-width="1.0"/>
<path d="M337.80 255.98L341.13 259.52L337.80 263.05L334.47 259.52Z" fill="#ff0000" stroke="#ff0000" stroke-width="1.0"/>
<path d="M358.00 244.25L361.33 247.79L358.00 251.33L354.67 247.79Z" fill="#ff0000" stroke="#ff0000" stroke-width="1.0"/>
<path d="M378.20 232.86L381.53 236.39L378.20 239.93L374.87 236.39Z" fill="#ff0000" stroke="#ff0000" stroke-width="1.0"/>
<path d="M398.40 221.21L401.73 224.75L398.40 228.29L395.06 224.75Z" fill="#ff0000" stroke="#ff0000" stroke-width="1.0"/>
<path d="M418.60 210.13L421.93 213.67L418.60 217.21L415.26 213.67Z" fill="#ff0000" stroke="#ff0000" stroke-width="1.0"/>
<path d="M438.80 199.01L442.13 202.55L438.80 206.08L435.46 202.55Z" fill="#ff0000" stroke="#ff0000" stroke-width="1.0"/>
<path d="M459.00 187.33L462.33 190.86L459.00 194.40L455.67 190.86Z" fill="#ff0000" stroke="#ff0000" stroke-width="1.0"/>
<path d="M479.20 175.48L482.54 179.02L479.20 182.56L475.87 179.02Z" fill="#ff0000" stroke="#ff0000" stroke-width="1.0"/>
<path d="M499.40 163.44L502.73 166.98L499.40 170.52L496.06 166.98Z" fill="#ff0000" stroke="#ff0000" stroke-width="1.0"/>
<path d="M519.60 152.19L522.93 155.73L519.60 159.27L516.26 155.73Z" fill="#ff0000" stroke="#ff0000" stroke-width="1.0"/>
<path d="M539.80 139.71L543.13 143.25L539.80 146.79L536.46 143.25Z" fill="#ff0000" stroke="#ff0000" stroke-width="1.0"/>
<path d="M560.00 128.86L563.34 132.40L560.00 135.94L556.66 132.40Z" fill="#ff0000" stroke="#ff0000" stroke-width="1.0"/>
<path d="M580.20 118.44L583.54 121.98L580.20 125.52L576.87 121.98Z" fill="#ff0000" stroke="#ff0000" stroke-width="1.0"/>
<path d="M600.40 107.47L603.74 111.01L600.40 114.55L597.06 111.01Z" fill="#ff0000" stroke="#ff0000" stroke-width="1.0"/>
<path d="M620.60 96.65L623.94 100.19L620.60 103.73L617.26 100.19Z" fill="#ff0000" stroke="#ff0000" stroke-width="1.0"/>
<path d="M115.60 393.23V395.03M112.50 393.23H118.70M112.50 395.03H118.70" stroke="#1a9a1a" stroke-width="1.4" fill="none"/>
<path d="M135.80 378.90V381.29M132.70 378.90H138.90M132.70 381.29H138.90" stroke="#1a9a1a" stroke-width="1.4" fill="none"/>
<path d="M156.00 364.94V367.91M152.90 364.94H159.10M152.90 367.91H159.10" stroke="#1a9a1a" stroke-width="1.4" fill="none"/>
<path d="M176.20 351.01V354.55M173.10 351.01H179.30M173.10 354.55H179.30" stroke="#1a9a1a" stroke-width="1.4" fill="none"/>
<path d="M196.40 337.41V341.51M193.30 337.41H199.50M193.30 341.51H199.50" stroke="#1a9a1a" stroke-width="1.4" fill="none"/>
<path d="M216.60 323.83V328.48M213.50 323.83H219.70M213.50 328.48H219.70" stroke="#1a9a1a" stroke-width="1.4" fill="none"/>
<path d="M236.80 311.51V316.67M233.70 311.51H239.90M233.70 316.67H239.90" stroke="#1a9a1a" stroke-width="1.4" fill="none"/>
<path d="M257.00 299.02V304.69M253.90 299.02H260.10M253.90 304.69H260.10" stroke="#1a9a1a" stroke-width="1.4" fill="none"/>
<path d="M277.20 286.25V292.45M274.10 286.25H280.30M274.10 292.45H280.30" stroke="#1a9a1a" stroke-width="1.4" fill="none"/>
<path d="M297.40 274.47V281.16M294.30 274.47H300.50M294.30 281.16H300.50" stroke="#1a9a1a" stroke-width="1.4" fill="none"/>
<path d="M317.60 262.44V269.62M314.50 262.44H320.70M314.50 269.62H320.70" stroke="#1a9a1a" stroke-width="1.4" fill="none"/>
<path d="M337.80 249.70V257.40M334.70 249.70H340.90M334.70 257.40H340.90" stroke="#1a9a1a" stroke-width="1.4" fill="none"/>
<path d="M358.00 237.47V245.68M354.90 237.47H361.10M354.90 245.68H361.10" stroke="#1a9a1a" stroke-width="1.4" fill="none"/>
<path d="M378.20 224.78V233.51M375.10 224.78H381.30M375.10 233.51H381.30" stroke="#1a9a1a" stroke-width="1.4" fill="none"/>
<path d="M398.40 211.36V220.65M395.30 211.36H401.50M395.30 220.65H401.50" stroke="#1a9a1a" stroke-width="1.4" fill="none"/>
<path d="M418.60 198.94V208.73M415.50 198.94H421.70M415.50 208.73H421.70" stroke="#1a9a1a" stroke-width="1.4" fill="none"/>
<path d="M438.80 185.71V196.04M435.70 185.71H441.90M435.70 196.04H441.90" stroke="#1a9a1a" stroke-width="1.4" fill="none"/>
<path d="M459.00 172.10V183.00M455.90 172.10H462.10M455.90 183.00H462.10" stroke="#1a9a1a" stroke-width="1.4" fill="none"/>
<path d="M479.20 159.53V170.95M476.10 159.53H482.30M476.10 170.95H482.30" stroke="#1a9a1a" stroke-width="1.4" fill="none"/>
<path d="M499.40 147.18V159.10M496.30 147.18H502.50M496.30 159.10H502.50" stroke="#1a9a1a" stroke-width="1.4" fill="none"/>
<path d="M519.60 135.30V147.71M516.50 135.30H522.70M516.50 147.71H522.70" stroke="#1a9a1a" stroke-width="1.4" fill="none"/>
<path d="M539.80 122.92V135.84M536.70 122.92H542.90M536.70 135.84H542.90" stroke="#1a9a1a" stroke-width="1.4" fill="none"/>
<path d="M560.00 111.29V124.69M556.90 111.29H563.10M556.90 124.69H563.10" stroke="#1a9a1a" stroke-width="1.4" fill="none"/>
<path d="M580.20 98.75V112.66M577.10 98.75H583.30M577.10 112.66H583.30" stroke="#1a9a1a" stroke-width="1.4" fill="none"/>
<path d="M600.40 87.48V101.86M597.30 87.48H603.50M597.30 101.86H603.50" stroke="#1a9a1a" stroke-width="1.4" fill="none"/>
<path d="M620.60 75.68V90.55M617.50 75.68H623.70M617.50 90.55H623.70" stroke="#1a9a1a" stroke-width="1.4" fill="none"/>
<path d="M95.40 407.48V409.20M92.30 407.48H98.50M92.30 409.20H98.50" stroke="#1a9a1a" stroke-width="1.4" fill="none"/>
<path d="M115.60 392.85V395.42M112.50 392.85H118.70M112.50 395.42H118.70" stroke="#1a9a1a" stroke-width="1.4" fill="none"/>
<path d="M135.80 378.39V381.81M132.70 378.39H138.90M132.70 381.81H138.90" stroke="#1a9a1a" stroke-width="1.4" fill="none"/>
<path d="M156.00 364.19V368.43M152.90 364.19H159.10M152.90 368.43H159.10" stroke="#1a9a1a" stroke-width="1.4" fill="none"/>
<path d="M176.20 350.14V355.20M173.10 350.14H179.30M173.10 355.20H179.30" stroke="#1a9a1a" stroke-width="1.4" fill="none"/>
<path d="M196.40 336.24V342.11M193.30 336.24H199.50M193.30 342.11H199.50" stroke="#1a9a1a" stroke-width="1.4" fill="none"/>
<path d="M216.60 322.54V329.21M213.50 322.54H219.70M213.50 329.21H219.70" stroke="#1a9a1a" stroke-width="1.4" fill="none"/>
<path d="M236.80 310.46V317.83M233.70 310.46H239.90M233.70 317.83H239.90" stroke="#1a9a1a" stroke-width="1.4" fill="none"/>
<path d="M257.00 297.66V305.78M253.90 297.66H260.10M253.90 305.78H260.10" stroke="#1a9a1a" stroke-width="1.4" fill="none"/>
<path d="M277.20 285.21V294.05M274.10 285.21H280.30M274.10 294.05H280.30" stroke="#1a9a1a" stroke-width="1.4" fill="none"/>
<path d="M297.40 273.13V282.67M294.30 273.13H300.50M294.30 282.67H300.50" stroke="#1a9a1a" stroke-width="1.4" fill="none"/>
<path d="M317.60 260.90V271.16M314.50 260.90H320.70M314.50 271.16H320.70" stroke="#1a9a1a" stroke-width="1.4" fill="none"/>
<path d="M337.80 248.56V259.53M334.70 248.56H340.90M334.70 259.53H340.90" stroke="#1a9a1a" stroke-width="1.4" fill="none"/>
<path d="M358.00 236.20V247.90M354.90 236.20H361.10M354.90 247.90H361.10" stroke="#1a9a1a" stroke-width="1.4" fill="none"/>
<path d="M378.20 223.27V235.72M375.10 223.27H381.30M375.10 235.72H381.30" stroke="#1a9a1a" stroke-width="1.4" fill="none"/>
<path d="M398.40 210.38V223.58M395.30 210.38H401.50M395.30 223.58H401.50" stroke="#1a9a1a" stroke-width="1.4" fill="none"/>
<path d="M418.60 198.37V212.27M415.50 198.37H421.70M415.50 212.27H421.70" stroke="#1a9a1a" stroke-width="1.4" fill="none"/>
<path d="M438.80 185.57V200.21M435.70 185.57H441.90M435.70 200.21H441.90" stroke="#1a9a1a" stroke-width="1.4" fill="none"/>
<path d="M459.00 172.80V188.19M455.90 172.80H462.10M455.90 188.19H462.10" stroke="#1a9a1a" stroke-width="1.4" fill="none"/>
<path d="M479.20 160.58V176.68M476.10 160.58H482.30M476.10 176.68H482.30" stroke="#1a9a1a" stroke-width="1.4" fill="none"/>
<path d="M499.40 149.15V165.92M496.30 149.15H502.50M496.30 165.92H502.50" stroke="#1a9a1a" stroke-width="1.4" fill="none"/>
<path d="M519.60 137.37V154.83M516.50 137.37H522.70M516.50 154.83H522.70" stroke="#1a9a1a" stroke-width="1.4" fill="none"/>
<path d="M539.80 125.57V143.71M536.70 125.57H542.90M536.70 143.71H542.90" stroke="#1a9a1a" stroke-width="1.4" fill="none"/>
<path d="M560.00 114.17V132.98M556.90 114.17H563.10M556.90 132.98H563.10" stroke="#1a9a1a" stroke-width="1.4" fill="none"/>
<path d="M580.20 102.88V122.34M577.10 102.88H583.30M577.10 122.34H583.30" stroke="#1a9a1a" stroke-width="1.4" fill="none"/>
<path d="M600.40 91.17V111.32M597.30 91.17H603.50M597.30 111.32H603.50" stroke="#1a9a1a" stroke-width="1.4" fill="none"/>
<path d="M620.60 79.79V100.60M617.50 79.79H623.70M617.50 100.60H623.70" stroke="#1a9a1a" stroke-width="1.4" fill="none"/>
<path d="M95.40 407.17V409.46M92.30 407.17H98.50M92.30 409.46H98.50" stroke="#1a9a1a" stroke-width="1.4" fill="none"/>
<path d="M115.60 392.45V395.88M112.50 392.45H118.70M112.50 395.88H118.70" stroke="#1a9a1a" stroke-width="1.4" fill="none"/>
<path d="M135.80 377.87V382.42M132.70 377.87H138.90M132.70 382.42H138.90" stroke="#1a9a1a" stroke-width="1.4" fill="none"/>
<path d="M156.00 363.71V369.35M152.90 363.71H159.10M152.90 369.35H159.10" stroke="#1a9a1a" stroke-width="1.4" fill="none"/>
<path d="M176.20 349.35V356.09M173.10 349.35H179.30M173.10 356.09H179.30" stroke="#1a9a1a" stroke-width="1.4" fill="none"/>
<path d="M196.40 335.23V343.05M193.30 335.23H199.50M193.30 343.05H199.50" stroke="#1a9a1a" stroke-width="1.4" fill="none"/>
<path d="M216.60 321.41V330.30M213.50 321.41H219.70M213.50 330.30H219.70" stroke="#1a9a1a" stroke-width="1.4" fill="none"/>
<path d="M236.80 308.97V318.82M233.70 308.97H239.90M233.70 318.82H239.90" stroke="#1a9a1a" stroke-width="1.4" fill="none"/>
<path d="M257.00 296.33V307.15M253.90 296.33H260.10M253.90 307.15H260.10" stroke="#1a9a1a" stroke-width="1.4" fill="none"/>
<path d="M277.20 283.84V295.62M274.10 283.84H280.30M274.10 295.62H280.30" stroke="#1a9a1a" stroke-width="1.4" fill="none"/>
<path d="M297.40 271.03V283.80M294.30 271.03H300.50M294.30 283.80H300.50" stroke="#1a9a1a" stroke-width="1.4" fill="none"/>
<path d="M317.60 258.97V272.67M314.50 258.97H320.70M314.50 272.67H320.70" stroke="#1a9a1a" stroke-width="1.4" fill="none"/>
<path d="M337.80 246.33V261.00M334.70 246.33H340.90M334.70 261.00H340.90" stroke="#1a9a1a" stroke-width="1.4" fill="none"/>
<path d="M358.00 233.94V249.56M354.90 233.94H361.10M354.90 249.56H361.10" stroke="#1a9a1a" stroke-width="1.4" fill="none"/>
<path d="M378.20 222.23V238.75M375.10 222.23H381.30M375.10 238.75H381.30" stroke="#1a9a1a" stroke-width="1.4" fill="none"/>
<path d="M398.40 209.99V227.45M395.30 209.99H401.50M395.30 227.45H401.50" stroke="#1a9a1a" stroke-width="1.4" fill="none"/>
<path d="M418.60 197.40V215.83M415.50 197.40H421.70M415.50 215.83H421.70" stroke="#1a9a1a" stroke-width="1.4" fill="none"/>
<path d="M438.80 185.69V205.02M435.70 185.69H441.90M435.70 205.02H441.90" stroke="#1a9a1a" stroke-width="1.4" fill="none"/>
<path d="M459.00 173.97V194.20M455.90 173.97H462.10M455.90 194.20H462.10" stroke="#1a9a1a" stroke-width="1.4" fill="none"/>
<path d="M479.20 162.20V183.34M476.10 162.20H482.30M476.10 183.34H482.30" stroke="#1a9a1a" stroke-width="1.4" fill="none"/>
<path d="M499.40 150.50V172.54M496.30 150.50H502.50M496.30 172.54H502.50" stroke="#1a9a1a" stroke-width="1.4" fill="none"/>
<path d="M519.60 138.07V161.06M516.50 138.07H522.70M516.50 161.06H522.70" stroke="#1a9a1a" stroke-width="1.4" fill="none"/>
<path d="M539.80 126.77V150.63M536.70 126.77H542.90M536.70 150.63H542.90" stroke="#1a9a1a" stroke-width="1.4" fill="none"/>
<path d="M560.00 116.56V141.21M556.90 116.56H563.10M556.90 141.21H563.10" stroke="#1a9a1a" stroke-width="1.4" fill="none"/>
<path d="M580.20 104.79V130.34M577.10 104.79H583.30M577.10 130.34H583.30" stroke="#1a9a1a" stroke-width="1.4" fill="none"/>
<path d="M600.40 93.84V120.24M597.30 93.84H603.50M597.30 120.24H603.50" stroke="#1a9a1a" stroke-width="1.4" fill="none"/>
<path d="M620.60 83.70V110.88M617.50 83.70H623.70M617.50 110.88H623.70" stroke="#1a9a1a" stroke-width="1.4" fill="none"/>
<path d="M95.40 408.61V411.32M92.30 408.61H98.50M92.30 411.32H98.50" stroke="#1a9a1a" stroke-width="1.4" fill="none"/>
<path d="M115.60 394.72V398.75M112.50 394.72H118.70M112.50 398.75H118.70" stroke="#1a9a1a" stroke-width="1.4" fill="none"/>
<path d="M135.80 380.96V386.30M132.70 380.96H138.90M132.70 386.30H138.90" stroke="#1a9a1a" stroke-width="1.4" fill="none"/>
<path d="M156.00 367.10V373.76M152.90 367.10H159.10M152.90 373.76H159.10" stroke="#1a9a1a" stroke-width="1.4" fill="none"/>
<path d="M176.20 353.74V361.67M173.10 353.74H179.30M173.10 361.67H179.30" stroke="#1a9a1a" stroke-width="1.4" fill="none"/>
<path d="M196.40 339.62V348.90M193.30 339.62H199.50M193.30 348.90H199.50" stroke="#1a9a1a" stroke-width="1.4" fill="none"/>
<path d="M216.60 325.45V336.08M213.50 325.45H219.70M213.50 336.08H219.70" stroke="#1a9a1a" stroke-width="1.4" fill="none"/>
<path d="M236.80 313.12V324.91M233.70 313.12H239.90M233.70 324.91H239.90" stroke="#1a9a1a" stroke-width="1.4" fill="none"/>
<path d="M257.00 299.98V313.03M253.90 299.98H260.10M253.90 313.03H260.10" stroke="#1a9a1a" stroke-width="1.4" fill="none"/>
<path d="M277.20 287.20V301.46M274.10 287.20H280.30M274.10 301.46H280.30" stroke="#1a9a1a" stroke-width="1.4" fill="none"/>
<path d="M297.40 275.04V290.46M294.30 275.04H300.50M294.30 290.46H300.50" stroke="#1a9a1a" stroke-width="1.4" fill="none"/>
<path d="M317.60 262.53V279.15M314.50 262.53H320.70M314.50 279.15H320.70" stroke="#1a9a1a" stroke-width="1.4" fill="none"/>
<path d="M337.80 250.10V267.90M334.70 250.10H340.90M334.70 267.90H340.90" stroke="#1a9a1a" stroke-width="1.4" fill="none"/>
<path d="M358.00 237.93V256.89M354.90 237.93H361.10M354.90 256.89H361.10" stroke="#1a9a1a" stroke-width="1.4" fill="none"/>
<path d="M378.20 225.63V245.76M375.10 225.63H381.30M375.10 245.76H381.30" stroke="#1a9a1a" stroke-width="1.4" fill="none"/>
<path d="M398.40 213.84V235.09M395.30 213.84H401.50M395.30 235.09H401.50" stroke="#1a9a1a" stroke-width="1.4" fill="none"/>
<path d="M418.60 201.78V224.19M415.50 201.78H421.70M415.50 224.19H421.70" stroke="#1a9a1a" stroke-width="1.4" fill="none"/>
<path d="M438.80 190.32V213.81M435.70 190.32H441.90M435.70 213.81H441.90" stroke="#1a9a1a" stroke-width="1.4" fill="none"/>
<path d="M459.00 177.40V202.12M455.90 177.40H462.10M455.90 202.12H462.10" stroke="#1a9a1a" stroke-width="1.4" fill="none"/>
<path d="M479.20 165.47V191.33M476.10 165.47H482.30M476.10 191.33H482.30" stroke="#1a9a1a" stroke-width="1.4" fill="none"/>
<path d="M499.40 153.00V180.05M496.30 153.00H502.50M496.30 180.05H502.50" stroke="#1a9a1a" stroke-width="1.4" fill="none"/>
<path d="M519.60 140.63V168.86M516.50 140.63H522.70M516.50 168.86H522.70" stroke="#1a9a1a" stroke-width="1.4" fill="none"/>
<path d="M539.80 128.15V157.57M536.70 128.15H542.90M536.70 157.57H542.90" stroke="#1a9a1a" stroke-width="1.4" fill="none"/>
<path d="M560.00 117.04V147.52M556.90 117.04H563.10M556.90 147.52H563.10" stroke="#1a9a1a" stroke-width="1.4" fill="none"/>
<path d="M580.20 104.84V136.47M577.10 104.84H583.30M577.10 136.47H583.30" stroke="#1a9a1a" stroke-width="1.4" fill="none"/>
<path d="M600.40 94.00V126.66M597.30 94.00H603.50M597.30 126.66H603.50" stroke="#1a9a1a" stroke-width="1.4" fill="none"/>
<path d="M620.60 82.72V116.46M617.50 82.72H623.70M617.50 116.46H623.70" stroke="#1a9a1a" stroke-width="1.4" fill="none"/>
<path d="M75.20 421.64V423.52M72.10 421.64H78.30M72.10 423.52H78.30" stroke="#1a9a1a" stroke-width="1.4" fill="none"/>
<path d="M95.40 406.51V410.23M92.30 406.51H98.50M92.30 410.23H98.50" stroke="#1a9a1a" stroke-width="1.4" fill="none"/>
<path d="M115.60 391.42V396.98M112.50 391.42H118.70M112.50 396.98H118.70" stroke="#1a9a1a" stroke-width="1.4" fill="none"/>
<path d="M135.80 376.60V383.97M132.70 376.60H138.90M132.70 383.97H138.90" stroke="#1a9a1a" stroke-width="1.4" fill="none"/>
<path d="M156.00 361.98V371.13M152.90 361.98H159.10M152.90 371.13H159.10" stroke="#1a9a1a" stroke-width="1.4" fill="none"/>
<path d="M176.20 347.20V358.16M173.10 347.20H179.30M173.10 358.16H179.30" stroke="#1a9a1a" stroke-width="1.4" fill="none"/>
<path d="M196.40 333.09V345.77M193.30 333.09H199.50M193.30 345.77H199.50" stroke="#1a9a1a" stroke-width="1.4" fill="none"/>
<path d="M216.60 318.78V333.21M213.50 318.78H219.70M213.50 333.21H219.70" stroke="#1a9a1a" stroke-width="1.4" fill="none"/>
<path d="M236.80 305.90V321.91M233.70 305.90H239.90M233.70 321.91H239.90" stroke="#1a9a1a" stroke-width="1.4" fill="none"/>
<path d="M257.00 292.90V310.49M253.90 292.90H260.10M253.90 310.49H260.10" stroke="#1a9a1a" stroke-width="1.4" fill="none"/>
<path d="M277.20 280.07V299.23M274.10 280.07H280.30M274.10 299.23H280.30" stroke="#1a9a1a" stroke-width="1.4" fill="none"/>
<path d="M297.40 267.23V287.95M294.30 267.23H300.50M294.30 287.95H300.50" stroke="#1a9a1a" stroke-width="1.4" fill="none"/>
<path d="M317.60 254.53V276.80M314.50 254.53H320.70M314.50 276.80H320.70" stroke="#1a9a1a" stroke-width="1.4" fill="none"/>
<path d="M337.80 241.76V265.59M334.70 241.76H340.90M334.70 265.59H340.90" stroke="#1a9a1a" stroke-width="1.4" fill="none"/>
<path d="M358.00 229.91V255.19M354.90 229.91H361.10M354.90 255.19H361.10" stroke="#1a9a1a" stroke-width="1.4" fill="none"/>
<path d="M378.20 217.34V244.15M375.10 217.34H381.30M375.10 244.15H381.30" stroke="#1a9a1a" stroke-width="1.4" fill="none"/>
<path d="M398.40 205.37V233.65M395.30 205.37H401.50M395.30 233.65H401.50" stroke="#1a9a1a" stroke-width="1.4" fill="none"/>
<path d="M418.60 193.27V223.02M415.50 193.27H421.70M415.50 223.02H421.70" stroke="#1a9a1a" stroke-width="1.4" fill="none"/>
<path d="M438.80 180.86V212.12M435.70 180.86H441.90M435.70 212.12H441.90" stroke="#1a9a1a" stroke-width="1.4" fill="none"/>
<path d="M459.00 168.82V201.56M455.90 168.82H462.10M455.90 201.56H462.10" stroke="#1a9a1a" stroke-width="1.4" fill="none"/>
<path d="M479.20 156.92V191.11M476.10 156.92H482.30M476.10 191.11H482.30" stroke="#1a9a1a" stroke-width="1.4" fill="none"/>
<path d="M499.40 145.00V180.64M496.30 145.00H502.50M496.30 180.64H502.50" stroke="#1a9a1a" stroke-width="1.4" fill="none"/>
<path d="M519.60 133.26V170.33M516.50 133.26H522.70M516.50 170.33H522.70" stroke="#1a9a1a" stroke-width="1.4" fill="none"/>
<path d="M539.80 122.43V160.83M536.70 122.43H542.90M536.70 160.83H542.90" stroke="#1a9a1a" stroke-width="1.4" fill="none"/>
<path d="M560.00 111.18V150.95M556.90 111.18H563.10M556.90 150.95H563.10" stroke="#1a9a1a" stroke-width="1.4" fill="none"/>
<path d="M580.20 100.46V141.54M577.10 100.46H583.30M577.10 141.54H583.30" stroke="#1a9a1a" stroke-width="1.4" fill="none"/>
<path d="M600.40 89.74V132.13M597.30 89.74H603.50M597.30 132.13H603.50" stroke="#1a9a1a" stroke-width="1.4" fill="none"/>
<path d="M620.60 78.94V122.64M617.50 78.94H623.70M617.50 122.64H623.70" stroke="#1a9a1a" stroke-width="1.4" fill="none"/>
<rect x="72.70" y="420.09" width="5.00" height="5.00" fill="#00ff00" stroke="#000" stroke-width="1.0"/>
<rect x="92.90" y="405.86" width="5.00" height="5.00" fill="#00ff00" stroke="#000" stroke-width="1.0"/>
<rect x="113.10" y="391.63" width="5.00" height="5.00" fill="#00ff00" stroke="#000" stroke-width="1.0"/>
<rect x="133.30" y="377.60" width="5.00" height="5.00" fill="#00ff00" stroke="#000" stroke-width="1.0"/>
<rect x="153.50" y="363.92" width="5.00" height="5.00" fill="#00ff00" stroke="#000" stroke-width="1.0"/>
<rect x="173.70" y="350.28" width="5.00" height="5.00" fill="#00ff00" stroke="#000" stroke-width="1.0"/>
<rect x="193.90" y="336.96" width="5.00" height="5.00" fill="#00ff00" stroke="#000" stroke-width="1.0"/>
<rect x="214.10" y="323.66" width="5.00" height="5.00" fill="#00ff00" stroke="#000" stroke-width="1.0"/>
<rect x="234.30" y="311.59" width="5.00" height="5.00" fill="#00ff00" stroke="#000" stroke-width="1.0"/>
<rect x="254.50" y="299.35" width="5.00" height="5.00" fill="#00ff00" stroke="#000" stroke-width="1.0"/>
<rect x="274.70" y="286.85" width="5.00" height="5.00" fill="#00ff00" stroke="#000" stroke-width="1.0"/>
<rect x="294.90" y="275.32" width="5.00" height="5.00" fill="#00ff00" stroke="#000" stroke-width="1.0"/>
<rect x="315.10" y="263.53" width="5.00" height="5.00" fill="#00ff00" stroke="#000" stroke-width="1.0"/>
<rect x="335.30" y="251.05" width="5.00" height="5.00" fill="#00ff00" stroke="#000" stroke-width="1.0"/>
<rect x="355.50" y="239.07" width="5.00" height="5.00" fill="#00ff00" stroke="#000" stroke-width="1.0"/>
<rect x="375.70" y="226.64" width="5.00" height="5.00" fill="#00ff00" stroke="#000" stroke-width="1.0"/>
<rect x="395.90" y="213.50" width="5.00" height="5.00" fill="#00ff00" stroke="#000" stroke-width="1.0"/>
<rect x="416.10" y="201.34" width="5.00" height="5.00" fill="#00ff00" stroke="#000" stroke-width="1.0"/>
<rect x="436.30" y="188.38" width="5.00" height="5.00" fill="#00ff00" stroke="#000" stroke-width="1.0"/>
<rect x="456.50" y="175.05" width="5.00" height="5.00" fill="#00ff00" stroke="#000" stroke-width="1.0"/>
<rect x="476.70" y="162.74" width="5.00" height="5.00" fill="#00ff00" stroke="#000" stroke-width="1.0"/>
<rect x="496.90" y="150.64" width="5.00" height="5.00" fill="#00ff00" stroke="#000" stroke-width="1.0"/>
<rect x="517.10" y="139.00" width="5.00" height="5.00" fill="#00ff00" stroke="#000" stroke-width="1.0"/>
<rect x="537.30" y="126.88" width="5.00" height="5.00" fill="#00ff00" stroke="#000" stroke-width="1.0"/>
<rect x="557.50" y="115.49" width="5.00" height="5.00" fill="#00ff00" stroke="#000" stroke-width="1.0"/>
<rect x="577.70" y="103.20" width="5.00" height="5.00" fill="#00ff00" stroke="#000" stroke-width="1.0"/>
<rect x="597.90" y="92.17" width="5.00" height="5.00" fill="#00ff00" stroke="#000" stroke-width="1.0"/>
<rect x="618.10" y="80.62" width="5.00" height="5.00" fill="#00ff00" stroke="#000" stroke-width="1.0"/>
<circle cx="75.20" cy="422.59" r="2.95" fill="#00ff00" stroke="#000" stroke-width="1.0"/>
<circle cx="95.40" cy="408.34" r="2.95" fill="#00ff00" stroke="#000" stroke-width="1.0"/>
<circle cx="115.60" cy="394.14" r="2.95" fill="#00ff00" stroke="#000" stroke-width="1.0"/>
<circle cx="135.80" cy="380.10" r="2.95" fill="#00ff00" stroke="#000" stroke-width="1.0"/>
<circle cx="156.00" cy="366.31" r="2.95" fill="#00ff00" stroke="#000" stroke-width="1.0"/>
<circle cx="176.20" cy="352.67" r="2.95" fill="#00ff00" stroke="#000" stroke-width="1.0"/>
<circle cx="196.40" cy="339.18" r="2.95" fill="#00ff00" stroke="#000" stroke-width="1.0"/>
<circle cx="216.60" cy="325.87" r="2.95" fill="#00ff00" stroke="#000" stroke-width="1.0"/>
<circle cx="236.80" cy="314.15" r="2.95" fill="#00ff00" stroke="#000" stroke-width="1.0"/>
<circle cx="257.00" cy="301.72" r="2.95" fill="#00ff00" stroke="#000" stroke-width="1.0"/>
<circle cx="277.20" cy="289.63" r="2.95" fill="#00ff00" stroke="#000" stroke-width="1.0"/>
<circle cx="297.40" cy="277.90" r="2.95" fill="#00ff00" stroke="#000" stroke-width="1.0"/>
<circle cx="317.60" cy="266.03" r="2.95" fill="#00ff00" stroke="#000" stroke-width="1.0"/>
<circle cx="337.80" cy="254.04" r="2.95" fill="#00ff00" stroke="#000" stroke-width="1.0"/>
<circle cx="358.00" cy="242.05" r="2.95" fill="#00ff00" stroke="#000" stroke-width="1.0"/>
<circle cx="378.20" cy="229.49" r="2.95" fill="#00ff00" stroke="#000" stroke-width="1.0"/>
<circle cx="398.40" cy="216.98" r="2.95" fill="#00ff00" stroke="#000" stroke-width="1.0"/>
<circle cx="418.60" cy="205.32" r="2.95" fill="#00ff00" stroke="#000" stroke-width="1.0"/>
<circle cx="438.80" cy="192.89" r="2.95" fill="#00ff00" stroke="#000" stroke-width="1.0"/>
<circle cx="459.00" cy="180.50" r="2.95" fill="#00ff00" stroke="#000" stroke-width="1.0"/>
<circle cx="479.20" cy="168.63" r="2.95" fill="#00ff00" stroke="#000" stroke-width="1.0"/>
<circle cx="499.40" cy="157.53" r="2.95" fill="#00ff00" stroke="#000" stroke-width="1.0"/>
<circle cx="519.60" cy="146.10" r="2.95" fill="#00ff00" stroke="#000" stroke-width="1.0"/>
<circle cx="539.80" cy="134.64" r="2.95" fill="#00ff00" stroke="#000" stroke-width="1.0"/>
<circle cx="560.00" cy="123.57" r="2.95" fill="#00ff00" stroke="#000" stroke-width="1.0"/>
<circle cx="580.20" cy="112.61" r="2.95" fill="#00ff00" stroke="#000" stroke-width="1.0"/>
<circle cx="600.40" cy="101.25" r="2.95" fill="#00ff00" stroke="#000" stroke-width="1.0"/>
<circle cx="620.60" cy="90.19" r="2.95" fill="#00ff00" stroke="#000" stroke-width="1.0"/>
<path d="M75.20 420.06L78.45 425.19L71.95 425.19Z" fill="#00ff00" stroke="#000" stroke-width="1.0" stroke-linejoin="miter"/>
<path d="M95.40 405.81L98.65 410.94L92.15 410.94Z" fill="#00ff00" stroke="#000" stroke-width="1.0" stroke-linejoin="miter"/>
<path d="M115.60 391.66L118.85 396.79L112.35 396.79Z" fill="#00ff00" stroke="#000" stroke-width="1.0" stroke-linejoin="miter"/>
<path d="M135.80 377.64L139.05 382.77L132.55 382.77Z" fill="#00ff00" stroke="#000" stroke-width="1.0" stroke-linejoin="miter"/>
<path d="M156.00 364.03L159.25 369.16L152.75 369.16Z" fill="#00ff00" stroke="#000" stroke-width="1.0" stroke-linejoin="miter"/>
<path d="M176.20 350.22L179.45 355.35L172.95 355.35Z" fill="#00ff00" stroke="#000" stroke-width="1.0" stroke-linejoin="miter"/>
<path d="M196.40 336.64L199.65 341.76L193.15 341.76Z" fill="#00ff00" stroke="#000" stroke-width="1.0" stroke-linejoin="miter"/>
<path d="M216.60 323.35L219.85 328.48L213.35 328.48Z" fill="#00ff00" stroke="#000" stroke-width="1.0" stroke-linejoin="miter"/>
<path d="M236.80 311.39L240.05 316.52L233.55 316.52Z" fill="#00ff00" stroke="#000" stroke-width="1.0" stroke-linejoin="miter"/>
<path d="M257.00 299.24L260.25 304.36L253.75 304.36Z" fill="#00ff00" stroke="#000" stroke-width="1.0" stroke-linejoin="miter"/>
<path d="M277.20 287.23L280.45 292.36L273.95 292.36Z" fill="#00ff00" stroke="#000" stroke-width="1.0" stroke-linejoin="miter"/>
<path d="M297.40 274.92L300.65 280.04L294.15 280.04Z" fill="#00ff00" stroke="#000" stroke-width="1.0" stroke-linejoin="miter"/>
<path d="M317.60 263.32L320.85 268.45L314.35 268.45Z" fill="#00ff00" stroke="#000" stroke-width="1.0" stroke-linejoin="miter"/>
<path d="M337.80 251.16L341.05 256.29L334.55 256.29Z" fill="#00ff00" stroke="#000" stroke-width="1.0" stroke-linejoin="miter"/>
<path d="M358.00 239.25L361.25 244.37L354.75 244.37Z" fill="#00ff00" stroke="#000" stroke-width="1.0" stroke-linejoin="miter"/>
<path d="M378.20 227.99L381.45 233.11L374.95 233.11Z" fill="#00ff00" stroke="#000" stroke-width="1.0" stroke-linejoin="miter"/>
<path d="M398.40 216.22L401.65 221.35L395.15 221.35Z" fill="#00ff00" stroke="#000" stroke-width="1.0" stroke-linejoin="miter"/>
<path d="M418.60 204.11L421.85 209.24L415.35 209.24Z" fill="#00ff00" stroke="#000" stroke-width="1.0" stroke-linejoin="miter"/>
<path d="M438.80 192.85L442.05 197.98L435.55 197.98Z" fill="#00ff00" stroke="#000" stroke-width="1.0" stroke-linejoin="miter"/>
<path d="M459.00 181.58L462.25 186.71L455.75 186.71Z" fill="#00ff00" stroke="#000" stroke-width="1.0" stroke-linejoin="miter"/>
<path d="M479.20 170.27L482.45 175.39L475.95 175.39Z" fill="#00ff00" stroke="#000" stroke-width="1.0" stroke-linejoin="miter"/>
<path d="M499.40 159.02L502.65 164.14L496.15 164.14Z" fill="#00ff00" stroke="#000" stroke-width="1.0" stroke-linejoin="miter"/>
<path d="M519.60 147.07L522.85 152.19L516.35 152.19Z" fill="#00ff00" stroke="#000" stroke-width="1.0" stroke-linejoin="miter"/>
<path d="M539.80 136.20L543.05 141.32L536.55 141.32Z" fill="#00ff00" stroke="#000" stroke-width="1.0" stroke-linejoin="miter"/>
<path d="M560.00 126.39L563.25 131.51L556.75 131.51Z" fill="#00ff00" stroke="#000" stroke-width="1.0" stroke-linejoin="miter"/>
<path d="M580.20 115.07L583.45 120.19L576.95 120.19Z" fill="#00ff00" stroke="#000" stroke-width="1.0" stroke-linejoin="miter"/>
<path d="M600.40 104.54L603.65 109.66L597.15 109.66Z" fill="#00ff00" stroke="#000" stroke-width="1.0" stroke-linejoin="miter"/>
<path d="M620.60 94.79L623.85 99.92L617.35 99.92Z" fill="#00ff00" stroke="#000" stroke-width="1.0" stroke-linejoin="miter"/>
<path d="M75.20 425.92L78.45 420.79L71.95 420.79Z" fill="#00ff00" stroke="#000" stroke-width="1.0" stroke-linejoin="miter"/>
<path d="M95.40 412.46L98.65 407.34L92.15 407.34Z" fill="#00ff00" stroke="#000" stroke-width="1.0" stroke-linejoin="miter"/>
<path d="M115.60 399.23L118.85 394.11L112.35 394.11Z" fill="#00ff00" stroke="#000" stroke-width="1.0" stroke-linejoin="miter"/>
<path d="M135.80 386.13L139.05 381.00L132.55 381.00Z" fill="#00ff00" stroke="#000" stroke-width="1.0" stroke-linejoin="miter"/>
<path d="M156.00 372.93L159.25 367.81L152.75 367.81Z" fill="#00ff00" stroke="#000" stroke-width="1.0" stroke-linejoin="miter"/>
<path d="M176.20 360.20L179.45 355.08L172.95 355.08Z" fill="#00ff00" stroke="#000" stroke-width="1.0" stroke-linejoin="miter"/>
<path d="M196.40 346.76L199.65 341.63L193.15 341.63Z" fill="#00ff00" stroke="#000" stroke-width="1.0" stroke-linejoin="miter"/>
<path d="M216.60 333.27L219.85 328.14L213.35 328.14Z" fill="#00ff00" stroke="#000" stroke-width="1.0" stroke-linejoin="miter"/>
<path d="M236.80 321.52L240.05 316.39L233.55 316.39Z" fill="#00ff00" stroke="#000" stroke-width="1.0" stroke-linejoin="miter"/>
<path d="M257.00 309.00L260.25 303.88L253.75 303.88Z" fill="#00ff00" stroke="#000" stroke-width="1.0" stroke-linejoin="miter"/>
<path d="M277.20 296.83L280.45 291.70L273.95 291.70Z" fill="#00ff00" stroke="#000" stroke-width="1.0" stroke-linejoin="miter"/>
<path d="M297.40 285.25L300.65 280.13L294.15 280.13Z" fill="#00ff00" stroke="#000" stroke-width="1.0" stroke-linejoin="miter"/>
<path d="M317.60 273.34L320.85 268.22L314.35 268.22Z" fill="#00ff00" stroke="#000" stroke-width="1.0" stroke-linejoin="miter"/>
<path d="M337.80 261.50L341.05 256.37L334.55 256.37Z" fill="#00ff00" stroke="#000" stroke-width="1.0" stroke-linejoin="miter"/>
<path d="M358.00 249.91L361.25 244.79L354.75 244.79Z" fill="#00ff00" stroke="#000" stroke-width="1.0" stroke-linejoin="miter"/>
<path d="M378.20 238.20L381.45 233.07L374.95 233.07Z" fill="#00ff00" stroke="#000" stroke-width="1.0" stroke-linejoin="miter"/>
<path d="M398.40 226.97L401.65 221.84L395.15 221.84Z" fill="#00ff00" stroke="#000" stroke-width="1.0" stroke-linejoin="miter"/>
<path d="M418.60 215.48L421.85 210.36L415.35 210.36Z" fill="#00ff00" stroke="#000" stroke-width="1.0" stroke-linejoin="miter"/>
<path d="M438.80 204.57L442.05 199.44L435.55 199.44Z" fill="#00ff00" stroke="#000" stroke-width="1.0" stroke-linejoin="miter"/>
<path d="M459.00 192.26L462.25 187.14L455.75 187.14Z" fill="#00ff00" stroke="#000" stroke-width="1.0" stroke-linejoin="miter"/>
<path d="M479.20 180.90L482.45 175.78L475.95 175.78Z" fill="#00ff00" stroke="#000" stroke-width="1.0" stroke-linejoin="miter"/>
<path d="M499.40 169.02L502.65 163.90L496.15 163.90Z" fill="#00ff00" stroke="#000" stroke-width="1.0" stroke-linejoin="miter"/>
<path d="M519.60 157.24L522.85 152.12L516.35 152.12Z" fill="#00ff00" stroke="#000" stroke-width="1.0" stroke-linejoin="miter"/>
<path d="M539.80 145.36L543.05 140.23L536.55 140.23Z" fill="#00ff00" stroke="#000" stroke-width="1.0" stroke-linejoin="miter"/>
<path d="M560.00 134.78L563.25 129.66L556.75 129.66Z" fill="#00ff00" stroke="#000" stroke-width="1.0" stroke-linejoin="miter"/>
<path d="M580.20 123.16L583.45 118.03L576.95 118.03Z" fill="#00ff00" stroke="#000" stroke-width="1.0" stroke-linejoin="miter"/>
<path d="M600.40 112.83L603.65 107.70L597.15 107.70Z" fill="#00ff00" stroke="#000" stroke-width="1.0" stroke-linejoin="miter"/>
<path d="M620.60 102.09L623.85 96.96L617.35 96.96Z" fill="#00ff00" stroke="#000" stroke-width="1.0" stroke-linejoin="miter"/>
<path d="M75.20 419.53L78.08 422.58L75.20 425.63L72.33 422.58Z" fill="#00ff00" stroke="#000" stroke-width="1.0"/>
<path d="M95.40 405.32L98.28 408.37L95.40 411.42L92.53 408.37Z" fill="#00ff00" stroke="#000" stroke-width="1.0"/>
<path d="M115.60 391.15L118.47 394.20L115.60 397.25L112.72 394.20Z" fill="#00ff00" stroke="#000" stroke-width="1.0"/>
<path d="M135.80 377.23L138.68 380.28L135.80 383.33L132.93 380.28Z" fill="#00ff00" stroke="#000" stroke-width="1.0"/>
<path d="M156.00 363.50L158.88 366.55L156.00 369.60L153.12 366.55Z" fill="#00ff00" stroke="#000" stroke-width="1.0"/>
<path d="M176.20 349.63L179.07 352.68L176.20 355.73L173.32 352.68Z" fill="#00ff00" stroke="#000" stroke-width="1.0"/>
<path d="M196.40 336.38L199.28 339.43L196.40 342.48L193.53 339.43Z" fill="#00ff00" stroke="#000" stroke-width="1.0"/>
<path d="M216.60 322.94L219.47 325.99L216.60 329.04L213.72 325.99Z" fill="#00ff00" stroke="#000" stroke-width="1.0"/>
<path d="M236.80 310.85L239.67 313.90L236.80 316.95L233.92 313.90Z" fill="#00ff00" stroke="#000" stroke-width="1.0"/>
<path d="M257.00 298.65L259.88 301.70L257.00 304.75L254.12 301.70Z" fill="#00ff00" stroke="#000" stroke-width="1.0"/>
<path d="M277.20 286.60L280.07 289.65L277.20 292.70L274.32 289.65Z" fill="#00ff00" stroke="#000" stroke-width="1.0"/>
<path d="M297.40 274.54L300.27 277.59L297.40 280.64L294.52 277.59Z" fill="#00ff00" stroke="#000" stroke-width="1.0"/>
<path d="M317.60 262.62L320.48 265.67L317.60 268.72L314.73 265.67Z" fill="#00ff00" stroke="#000" stroke-width="1.0"/>
<path d="M337.80 250.62L340.68 253.67L337.80 256.72L334.93 253.67Z" fill="#00ff00" stroke="#000" stroke-width="1.0"/>
<path d="M358.00 239.50L360.88 242.55L358.00 245.60L355.12 242.55Z" fill="#00ff00" stroke="#000" stroke-width="1.0"/>
<path d="M378.20 227.70L381.07 230.75L378.20 233.80L375.32 230.75Z" fill="#00ff00" stroke="#000" stroke-width="1.0"/>
<path d="M398.40 216.46L401.27 219.51L398.40 222.56L395.52 219.51Z" fill="#00ff00" stroke="#000" stroke-width="1.0"/>
<path d="M418.60 205.10L421.47 208.15L418.60 211.20L415.72 208.15Z" fill="#00ff00" stroke="#000" stroke-width="1.0"/>
<path d="M438.80 193.44L441.67 196.49L438.80 199.54L435.92 196.49Z" fill="#00ff00" stroke="#000" stroke-width="1.0"/>
<path d="M459.00 182.14L461.88 185.19L459.00 188.24L456.12 185.19Z" fill="#00ff00" stroke="#000" stroke-width="1.0"/>
<path d="M479.20 170.97L482.08 174.02L479.20 177.07L476.33 174.02Z" fill="#00ff00" stroke="#000" stroke-width="1.0"/>
<path d="M499.40 159.77L502.27 162.82L499.40 165.87L496.52 162.82Z" fill="#00ff00" stroke="#000" stroke-width="1.0"/>
<path d="M519.60 148.74L522.47 151.79L519.60 154.84L516.72 151.79Z" fill="#00ff00" stroke="#000" stroke-width="1.0"/>
<path d="M539.80 138.58L542.67 141.63L539.80 144.68L536.92 141.63Z" fill="#00ff00" stroke="#000" stroke-width="1.0"/>
<path d="M560.00 128.02L562.88 131.07L560.00 134.12L557.12 131.07Z" fill="#00ff00" stroke="#000" stroke-width="1.0"/>
<path d="M580.20 117.95L583.08 121.00L580.20 124.05L577.33 121.00Z" fill="#00ff00" stroke="#000" stroke-width="1.0"/>
<path d="M600.40 107.89L603.27 110.94L600.40 113.99L597.52 110.94Z" fill="#00ff00" stroke="#000" stroke-width="1.0"/>
<path d="M620.60 97.74L623.48 100.79L620.60 103.84L617.73 100.79Z" fill="#00ff00" stroke="#000" stroke-width="1.0"/>
<path d="M438.80 160.94V162.59M435.70 160.94H441.90M435.70 162.59H441.90" stroke="#ff8800" stroke-width="1.4" fill="none"/>
<path d="M459.00 147.35V149.09M455.90 147.35H462.10M455.90 149.09H462.10" stroke="#ff8800" stroke-width="1.4" fill="none"/>
<path d="M479.20 134.90V136.71M476.10 134.90H482.30M476.10 136.71H482.30" stroke="#ff8800" stroke-width="1.4" fill="none"/>
<path d="M499.40 120.97V122.87M496.30 120.97H502.50M496.30 122.87H502.50" stroke="#ff8800" stroke-width="1.4" fill="none"/>
<path d="M519.60 107.91V109.88M516.50 107.91H522.70M516.50 109.88H522.70" stroke="#ff8800" stroke-width="1.4" fill="none"/>
<path d="M539.80 95.58V97.62M536.70 95.58H542.90M536.70 97.62H542.90" stroke="#ff8800" stroke-width="1.4" fill="none"/>
<path d="M560.00 81.62V83.74M556.90 81.62H563.10M556.90 83.74H563.10" stroke="#ff8800" stroke-width="1.4" fill="none"/>
<path d="M580.20 68.65V70.85M577.10 68.65H583.30M577.10 70.85H583.30" stroke="#ff8800" stroke-width="1.4" fill="none"/>
<path d="M600.40 57.04V59.31M597.30 57.04H603.50M597.30 59.31H603.50" stroke="#ff8800" stroke-width="1.4" fill="none"/>
<path d="M620.60 43.28V45.64M617.50 43.28H623.70M617.50 45.64H623.70" stroke="#ff8800" stroke-width="1.4" fill="none"/>
<path d="M337.80 234.28V235.90M334.70 234.28H340.90M334.70 235.90H340.90" stroke="#ff8800" stroke-width="1.4" fill="none"/>
<path d="M358.00 221.01V222.73M354.90 221.01H361.10M354.90 222.73H361.10" stroke="#ff8800" stroke-width="1.4" fill="none"/>
<path d="M378.20 207.23V209.06M375.10 207.23H381.30M375.10 209.06H381.30" stroke="#ff8800" stroke-width="1.4" fill="none"/>
<path d="M398.40 193.54V195.48M395.30 193.54H401.50M395.30 195.48H401.50" stroke="#ff8800" stroke-width="1.4" fill="none"/>
<path d="M418.60 180.34V182.38M415.50 180.34H421.70M415.50 182.38H421.70" stroke="#ff8800" stroke-width="1.4" fill="none"/>
<path d="M438.80 167.63V169.78M435.70 167.63H441.90M435.70 169.78H441.90" stroke="#ff8800" stroke-width="1.4" fill="none"/>
<path d="M459.00 153.53V155.79M455.90 153.53H462.10M455.90 155.79H462.10" stroke="#ff8800" stroke-width="1.4" fill="none"/>
<path d="M479.20 140.77V143.13M476.10 140.77H482.30M476.10 143.13H482.30" stroke="#ff8800" stroke-width="1.4" fill="none"/>
<path d="M499.40 127.66V130.13M496.30 127.66H502.50M496.30 130.13H502.50" stroke="#ff8800" stroke-width="1.4" fill="none"/>
<path d="M519.60 116.00V118.56M516.50 116.00H522.70M516.50 118.56H522.70" stroke="#ff8800" stroke-width="1.4" fill="none"/>
<path d="M539.80 103.17V105.83M536.70 103.17H542.90M536.70 105.83H542.90" stroke="#ff8800" stroke-width="1.4" fill="none"/>
<path d="M560.00 90.97V93.72M556.90 90.97H563.10M556.90 93.72H563.10" stroke="#ff8800" stroke-width="1.4" fill="none"/>
<path d="M580.20 77.51V80.37M577.10 77.51H583.30M577.10 80.37H583.30" stroke="#ff8800" stroke-width="1.4" fill="none"/>
<path d="M600.40 65.94V68.90M597.30 65.94H603.50M597.30 68.90H603.50" stroke="#ff8800" stroke-width="1.4" fill="none"/>
<path d="M620.60 53.97V57.02M617.50 53.97H623.70M617.50 57.02H623.70" stroke="#ff8800" stroke-width="1.4" fill="none"/>
<path d="M277.20 276.06V277.66M274.10 276.06H280.30M274.10 277.66H280.30" stroke="#ff8800" stroke-width="1.4" fill="none"/>
<path d="M297.40 262.32V264.06M294.30 262.32H300.50M294.30 264.06H300.50" stroke="#ff8800" stroke-width="1.4" fill="none"/>
<path d="M317.60 248.79V250.67M314.50 248.79H320.70M314.50 250.67H320.70" stroke="#ff8800" stroke-width="1.4" fill="none"/>
<path d="M337.80 234.43V236.45M334.70 234.43H340.90M334.70 236.45H340.90" stroke="#ff8800" stroke-width="1.4" fill="none"/>
<path d="M358.00 221.10V223.25M354.90 221.10H361.10M354.90 223.25H361.10" stroke="#ff8800" stroke-width="1.4" fill="none"/>
<path d="M378.20 207.49V209.77M375.10 207.49H381.30M375.10 209.77H381.30" stroke="#ff8800" stroke-width="1.4" fill="none"/>
<path d="M398.40 194.83V197.24M395.30 194.83H401.50M395.30 197.24H401.50" stroke="#ff8800" stroke-width="1.4" fill="none"/>
<path d="M418.60 180.84V183.38M415.50 180.84H421.70M415.50 183.38H421.70" stroke="#ff8800" stroke-width="1.4" fill="none"/>
<path d="M438.80 168.55V171.22M435.70 168.55H441.90M435.70 171.22H441.90" stroke="#ff8800" stroke-width="1.4" fill="none"/>
<path d="M459.00 154.68V157.49M455.90 154.68H462.10M455.90 157.49H462.10" stroke="#ff8800" stroke-width="1.4" fill="none"/>
<path d="M479.20 142.26V145.19M476.10 142.26H482.30M476.10 145.19H482.30" stroke="#ff8800" stroke-width="1.4" fill="none"/>
<path d="M499.40 129.63V132.69M496.30 129.63H502.50M496.30 132.69H502.50" stroke="#ff8800" stroke-width="1.4" fill="none"/>
<path d="M519.60 116.70V119.89M516.50 116.70H522.70M516.50 119.89H522.70" stroke="#ff8800" stroke-width="1.4" fill="none"/>
<path d="M539.80 103.65V106.97M536.70 103.65H542.90M536.70 106.97H542.90" stroke="#ff8800" stroke-width="1.4" fill="none"/>
<path d="M560.00 92.11V95.54M556.90 92.11H563.10M556.90 95.54H563.10" stroke="#ff8800" stroke-width="1.4" fill="none"/>
<path d="M580.20 80.00V83.55M577.10 80.00H583.30M577.10 83.55H583.30" stroke="#ff8800" stroke-width="1.4" fill="none"/>
<path d="M600.40 67.22V70.90M597.30 67.22H603.50M597.30 70.90H603.50" stroke="#ff8800" stroke-width="1.4" fill="none"/>
<path d="M620.60 55.56V59.36M617.50 55.56H623.70M617.50 59.36H623.70" stroke="#ff8800" stroke-width="1.4" fill="none"/>
<path d="M257.00 290.71V292.45M253.90 290.71H260.10M253.90 292.45H260.10" stroke="#ff8800" stroke-width="1.4" fill="none"/>
<path d="M277.20 276.65V278.56M274.10 276.65H280.30M274.10 278.56H280.30" stroke="#ff8800" stroke-width="1.4" fill="none"/>
<path d="M297.40 263.03V265.11M294.30 263.03H300.50M294.30 265.11H300.50" stroke="#ff8800" stroke-width="1.4" fill="none"/>
<path d="M317.60 249.15V251.39M314.50 249.15H320.70M314.50 251.39H320.70" stroke="#ff8800" stroke-width="1.4" fill="none"/>
<path d="M337.80 235.74V238.14M334.70 235.74H340.90M334.70 238.14H340.90" stroke="#ff8800" stroke-width="1.4" fill="none"/>
<path d="M358.00 221.65V224.21M354.90 221.65H361.10M354.90 224.21H361.10" stroke="#ff8800" stroke-width="1.4" fill="none"/>
<path d="M378.20 208.42V211.14M375.10 208.42H381.30M375.10 211.14H381.30" stroke="#ff8800" stroke-width="1.4" fill="none"/>
<path d="M398.40 195.50V198.38M395.30 195.50H401.50M395.30 198.38H401.50" stroke="#ff8800" stroke-width="1.4" fill="none"/>
<path d="M418.60 182.08V185.12M415.50 182.08H421.70M415.50 185.12H421.70" stroke="#ff8800" stroke-width="1.4" fill="none"/>
<path d="M438.80 168.55V171.75M435.70 168.55H441.90M435.70 171.75H441.90" stroke="#ff8800" stroke-width="1.4" fill="none"/>
<path d="M459.00 156.54V159.89M455.90 156.54H462.10M455.90 159.89H462.10" stroke="#ff8800" stroke-width="1.4" fill="none"/>
<path d="M479.20 142.93V146.43M476.10 142.93H482.30M476.10 146.43H482.30" stroke="#ff8800" stroke-width="1.4" fill="none"/>
<path d="M499.40 130.70V134.35M496.30 130.70H502.50M496.30 134.35H502.50" stroke="#ff8800" stroke-width="1.4" fill="none"/>
<path d="M519.60 118.05V121.86M516.50 118.05H522.70M516.50 121.86H522.70" stroke="#ff8800" stroke-width="1.4" fill="none"/>
<path d="M539.80 105.15V109.11M536.70 105.15H542.90M536.70 109.11H542.90" stroke="#ff8800" stroke-width="1.4" fill="none"/>
<path d="M560.00 93.40V97.50M556.90 93.40H563.10M556.90 97.50H563.10" stroke="#ff8800" stroke-width="1.4" fill="none"/>
<path d="M580.20 81.02V85.27M577.10 81.02H583.30M577.10 85.27H583.30" stroke="#ff8800" stroke-width="1.4" fill="none"/>
<path d="M600.40 68.64V73.04M597.30 68.64H603.50M597.30 73.04H603.50" stroke="#ff8800" stroke-width="1.4" fill="none"/>
<path d="M620.60 56.19V60.73M617.50 56.19H623.70M617.50 60.73H623.70" stroke="#ff8800" stroke-width="1.4" fill="none"/>
<path d="M196.40 333.80V335.44M193.30 333.80H199.50M193.30 335.44H199.50" stroke="#ff8800" stroke-width="1.4" fill="none"/>
<path d="M216.60 319.50V321.37M213.50 319.50H219.70M213.50 321.37H219.70" stroke="#ff8800" stroke-width="1.4" fill="none"/>
<path d="M236.80 305.39V307.48M233.70 305.39H239.90M233.70 307.48H239.90" stroke="#ff8800" stroke-width="1.4" fill="none"/>
<path d="M257.00 290.98V293.30M253.90 290.98H260.10M253.90 293.30H260.10" stroke="#ff8800" stroke-width="1.4" fill="none"/>
<path d="M277.20 277.36V279.89M274.10 277.36H280.30M274.10 279.89H280.30" stroke="#ff8800" stroke-width="1.4" fill="none"/>
<path d="M297.40 263.64V266.40M294.30 263.64H300.50M294.30 266.40H300.50" stroke="#ff8800" stroke-width="1.4" fill="none"/>
<path d="M317.60 250.05V253.02M314.50 250.05H320.70M314.50 253.02H320.70" stroke="#ff8800" stroke-width="1.4" fill="none"/>
<path d="M337.80 235.91V239.11M334.70 235.91H340.90M334.70 239.11H340.90" stroke="#ff8800" stroke-width="1.4" fill="none"/>
<path d="M358.00 222.44V225.85M354.90 222.44H361.10M354.90 225.85H361.10" stroke="#ff8800" stroke-width="1.4" fill="none"/>
<path d="M378.20 209.29V212.91M375.10 209.29H381.30M375.10 212.91H381.30" stroke="#ff8800" stroke-width="1.4" fill="none"/>
<path d="M398.40 196.47V200.29M395.30 196.47H401.50M395.30 200.29H401.50" stroke="#ff8800" stroke-width="1.4" fill="none"/>
<path d="M418.60 183.45V187.48M415.50 183.45H421.70M415.50 187.48H421.70" stroke="#ff8800" stroke-width="1.4" fill="none"/>
<path d="M438.80 170.46V174.69M435.70 170.46H441.90M435.70 174.69H441.90" stroke="#ff8800" stroke-width="1.4" fill="none"/>
<path d="M459.00 157.46V161.90M455.90 157.46H462.10M455.90 161.90H462.10" stroke="#ff8800" stroke-width="1.4" fill="none"/>
<path d="M479.20 145.10V149.74M476.10 145.10H482.30M476.10 149.74H482.30" stroke="#ff8800" stroke-width="1.4" fill="none"/>
<path d="M499.40 132.18V137.01M496.30 132.18H502.50M496.30 137.01H502.50" stroke="#ff8800" stroke-width="1.4" fill="none"/>
<path d="M519.60 119.94V124.97M516.50 119.94H522.70M516.50 124.97H522.70" stroke="#ff8800" stroke-width="1.4" fill="none"/>
<path d="M539.80 106.67V111.91M536.70 106.67H542.90M536.70 111.91H542.90" stroke="#ff8800" stroke-width="1.4" fill="none"/>
<path d="M560.00 94.39V99.83M556.90 94.39H563.10M556.90 99.83H563.10" stroke="#ff8800" stroke-width="1.4" fill="none"/>
<path d="M580.20 82.85V88.48M577.10 82.85H583.30M577.10 88.48H583.30" stroke="#ff8800" stroke-width="1.4" fill="none"/>
<path d="M600.40 71.29V77.10M597.30 71.29H603.50M597.30 77.10H603.50" stroke="#ff8800" stroke-width="1.4" fill="none"/>
<path d="M620.60 58.33V64.34M617.50 58.33H623.70M617.50 64.34H623.70" stroke="#ff8800" stroke-width="1.4" fill="none"/>
<rect x="72.70" y="418.60" width="5.00" height="5.00" fill="#ffee00" stroke="#000" stroke-width="1.0"/>
<rect x="92.90" y="402.78" width="5.00" height="5.00" fill="#ffee00" stroke="#000" stroke-width="1.0"/>
<rect x="113.10" y="387.45" width="5.00" height="5.00" fill="#ffee00" stroke="#000" stroke-width="1.0"/>
<rect x="133.30" y="372.37" width="5.00" height="5.00" fill="#ffee00" stroke="#000" stroke-width="1.0"/>
<rect x="153.50" y="357.53" width="5.00" height="5.00" fill="#ffee00" stroke="#000" stroke-width="1.0"/>
<rect x="173.70" y="342.67" width="5.00" height="5.00" fill="#ffee00" stroke="#000" stroke-width="1.0"/>
<rect x="193.90" y="327.94" width="5.00" height="5.00" fill="#ffee00" stroke="#000" stroke-width="1.0"/>
<rect x="214.10" y="313.65" width="5.00" height="5.00" fill="#ffee00" stroke="#000" stroke-width="1.0"/>
<rect x="234.30" y="299.01" width="5.00" height="5.00" fill="#ffee00" stroke="#000" stroke-width="1.0"/>
<rect x="254.50" y="284.38" width="5.00" height="5.00" fill="#ffee00" stroke="#000" stroke-width="1.0"/>
<rect x="274.70" y="270.13" width="5.00" height="5.00" fill="#ffee00" stroke="#000" stroke-width="1.0"/>
<rect x="294.90" y="256.41" width="5.00" height="5.00" fill="#ffee00" stroke="#000" stroke-width="1.0"/>
<rect x="315.10" y="242.35" width="5.00" height="5.00" fill="#ffee00" stroke="#000" stroke-width="1.0"/>
<rect x="335.30" y="228.11" width="5.00" height="5.00" fill="#ffee00" stroke="#000" stroke-width="1.0"/>
<rect x="355.50" y="214.54" width="5.00" height="5.00" fill="#ffee00" stroke="#000" stroke-width="1.0"/>
<rect x="375.70" y="200.61" width="5.00" height="5.00" fill="#ffee00" stroke="#000" stroke-width="1.0"/>
<rect x="395.90" y="187.09" width="5.00" height="5.00" fill="#ffee00" stroke="#000" stroke-width="1.0"/>
<rect x="416.10" y="172.89" width="5.00" height="5.00" fill="#ffee00" stroke="#000" stroke-width="1.0"/>
<rect x="436.30" y="159.26" width="5.00" height="5.00" fill="#ffee00" stroke="#000" stroke-width="1.0"/>
<rect x="456.50" y="145.72" width="5.00" height="5.00" fill="#ffee00" stroke="#000" stroke-width="1.0"/>
<rect x="476.70" y="133.30" width="5.00" height="5.00" fill="#ffee00" stroke="#000" stroke-width="1.0"/>
<rect x="496.90" y="119.42" width="5.00" height="5.00" fill="#ffee00" stroke="#000" stroke-width="1.0"/>
<rect x="517.10" y="106.39" width="5.00" height="5.00" fill="#ffee00" stroke="#000" stroke-width="1.0"/>
<rect x="537.30" y="94.10" width="5.00" height="5.00" fill="#ffee00" stroke="#000" stroke-width="1.0"/>
<rect x="557.50" y="80.18" width="5.00" height="5.00" fill="#ffee00" stroke="#000" stroke-width="1.0"/>
<rect x="577.70" y="67.25" width="5.00" height="5.00" fill="#ffee00" stroke="#000" stroke-width="1.0"/>
<rect x="597.90" y="55.68" width="5.00" height="5.00" fill="#ffee00" stroke="#000" stroke-width="1.0"/>
<rect x="618.10" y="41.96" width="5.00" height="5.00" fill="#ffee00" stroke="#000" stroke-width="1.0"/>
<circle cx="75.20" cy="421.83" r="2.95" fill="#ffee00" stroke="#000" stroke-width="1.0"/>
<circle cx="95.40" cy="406.77" r="2.95" fill="#ffee00" stroke="#000" stroke-width="1.0"/>
<circle cx="115.60" cy="391.74" r="2.95" fill="#ffee00" stroke="#000" stroke-width="1.0"/>
<circle cx="135.80" cy="376.93" r="2.95" fill="#ffee00" stroke="#000" stroke-width="1.0"/>
<circle cx="156.00" cy="362.41" r="2.95" fill="#ffee00" stroke="#000" stroke-width="1.0"/>
<circle cx="176.20" cy="347.74" r="2.95" fill="#ffee00" stroke="#000" stroke-width="1.0"/>
<circle cx="196.40" cy="333.23" r="2.95" fill="#ffee00" stroke="#000" stroke-width="1.0"/>
<circle cx="216.60" cy="318.95" r="2.95" fill="#ffee00" stroke="#000" stroke-width="1.0"/>
<circle cx="236.80" cy="304.79" r="2.95" fill="#ffee00" stroke="#000" stroke-width="1.0"/>
<circle cx="257.00" cy="290.59" r="2.95" fill="#ffee00" stroke="#000" stroke-width="1.0"/>
<circle cx="277.20" cy="276.31" r="2.95" fill="#ffee00" stroke="#000" stroke-width="1.0"/>
<circle cx="297.40" cy="262.88" r="2.95" fill="#ffee00" stroke="#000" stroke-width="1.0"/>
<circle cx="317.60" cy="248.69" r="2.95" fill="#ffee00" stroke="#000" stroke-width="1.0"/>
<circle cx="337.80" cy="235.09" r="2.95" fill="#ffee00" stroke="#000" stroke-width="1.0"/>
<circle cx="358.00" cy="221.87" r="2.95" fill="#ffee00" stroke="#000" stroke-width="1.0"/>
<circle cx="378.20" cy="208.14" r="2.95" fill="#ffee00" stroke="#000" stroke-width="1.0"/>
<circle cx="398.40" cy="194.51" r="2.95" fill="#ffee00" stroke="#000" stroke-width="1.0"/>
<circle cx="418.60" cy="181.36" r="2.95" fill="#ffee00" stroke="#000" stroke-width="1.0"/>
<circle cx="438.80" cy="168.70" r="2.95" fill="#ffee00" stroke="#000" stroke-width="1.0"/>
<circle cx="459.00" cy="154.66" r="2.95" fill="#ffee00" stroke="#000" stroke-width="1.0"/>
<circle cx="479.20" cy="141.95" r="2.95" fill="#ffee00" stroke="#000" stroke-width="1.0"/>
<circle cx="499.40" cy="128.90" r="2.95" fill="#ffee00" stroke="#000" stroke-width="1.0"/>
<circle cx="519.60" cy="117.28" r="2.95" fill="#ffee00" stroke="#000" stroke-width="1.0"/>
<circle cx="539.80" cy="104.50" r="2.95" fill="#ffee00" stroke="#000" stroke-width="1.0"/>
<circle cx="560.00" cy="92.35" r="2.95" fill="#ffee00" stroke="#000" stroke-width="1.0"/>
<circle cx="580.20" cy="78.94" r="2.95" fill="#ffee00" stroke="#000" stroke-width="1.0"/>
<circle cx="600.40" cy="67.42" r="2.95" fill="#ffee00" stroke="#000" stroke-width="1.0"/>
<circle cx="620.60" cy="55.50" r="2.95" fill="#ffee00" stroke="#000" stroke-width="1.0"/>
<path d="M75.20 419.34L78.45 424.47L71.95 424.47Z" fill="#ffee00" stroke="#000" stroke-width="1.0" stroke-linejoin="miter"/>
<path d="M95.40 404.26L98.65 409.38L92.15 409.38Z" fill="#ffee00" stroke="#000" stroke-width="1.0" stroke-linejoin="miter"/>
<path d="M115.60 389.35L118.85 394.47L112.35 394.47Z" fill="#ffee00" stroke="#000" stroke-width="1.0" stroke-linejoin="miter"/>
<path d="M135.80 374.69L139.05 379.81L132.55 379.81Z" fill="#ffee00" stroke="#000" stroke-width="1.0" stroke-linejoin="miter"/>
<path d="M156.00 360.07L159.25 365.20L152.75 365.20Z" fill="#ffee00" stroke="#000" stroke-width="1.0" stroke-linejoin="miter"/>
<path d="M176.20 345.28L179.45 350.41L172.95 350.41Z" fill="#ffee00" stroke="#000" stroke-width="1.0" stroke-linejoin="miter"/>
<path d="M196.40 330.98L199.65 336.10L193.15 336.10Z" fill="#ffee00" stroke="#000" stroke-width="1.0" stroke-linejoin="miter"/>
<path d="M216.60 316.61L219.85 321.73L213.35 321.73Z" fill="#ffee00" stroke="#000" stroke-width="1.0" stroke-linejoin="miter"/>
<path d="M236.80 302.73L240.05 307.85L233.55 307.85Z" fill="#ffee00" stroke="#000" stroke-width="1.0" stroke-linejoin="miter"/>
<path d="M257.00 288.70L260.25 293.82L253.75 293.82Z" fill="#ffee00" stroke="#000" stroke-width="1.0" stroke-linejoin="miter"/>
<path d="M277.20 274.36L280.45 279.49L273.95 279.49Z" fill="#ffee00" stroke="#000" stroke-width="1.0" stroke-linejoin="miter"/>
<path d="M297.40 260.69L300.65 265.82L294.15 265.82Z" fill="#ffee00" stroke="#000" stroke-width="1.0" stroke-linejoin="miter"/>
<path d="M317.60 247.23L320.85 252.36L314.35 252.36Z" fill="#ffee00" stroke="#000" stroke-width="1.0" stroke-linejoin="miter"/>
<path d="M337.80 232.94L341.05 238.07L334.55 238.07Z" fill="#ffee00" stroke="#000" stroke-width="1.0" stroke-linejoin="miter"/>
<path d="M358.00 219.68L361.25 224.80L354.75 224.80Z" fill="#ffee00" stroke="#000" stroke-width="1.0" stroke-linejoin="miter"/>
<path d="M378.20 206.13L381.45 211.26L374.95 211.26Z" fill="#ffee00" stroke="#000" stroke-width="1.0" stroke-linejoin="miter"/>
<path d="M398.40 193.53L401.65 198.66L395.15 198.66Z" fill="#ffee00" stroke="#000" stroke-width="1.0" stroke-linejoin="miter"/>
<path d="M418.60 179.61L421.85 184.73L415.35 184.73Z" fill="#ffee00" stroke="#000" stroke-width="1.0" stroke-linejoin="miter"/>
<path d="M438.80 167.39L442.05 172.51L435.55 172.51Z" fill="#ffee00" stroke="#000" stroke-width="1.0" stroke-linejoin="miter"/>
<path d="M459.00 153.58L462.25 158.71L455.75 158.71Z" fill="#ffee00" stroke="#000" stroke-width="1.0" stroke-linejoin="miter"/>
<path d="M479.20 141.22L482.45 146.35L475.95 146.35Z" fill="#ffee00" stroke="#000" stroke-width="1.0" stroke-linejoin="miter"/>
<path d="M499.40 128.66L502.65 133.78L496.15 133.78Z" fill="#ffee00" stroke="#000" stroke-width="1.0" stroke-linejoin="miter"/>
<path d="M519.60 115.80L522.85 120.92L516.35 120.92Z" fill="#ffee00" stroke="#000" stroke-width="1.0" stroke-linejoin="miter"/>
<path d="M539.80 102.81L543.05 107.94L536.55 107.94Z" fill="#ffee00" stroke="#000" stroke-width="1.0" stroke-linejoin="miter"/>
<path d="M560.00 91.33L563.25 96.45L556.75 96.45Z" fill="#ffee00" stroke="#000" stroke-width="1.0" stroke-linejoin="miter"/>
<path d="M580.20 79.27L583.45 84.40L576.95 84.40Z" fill="#ffee00" stroke="#000" stroke-width="1.0" stroke-linejoin="miter"/>
<path d="M600.40 66.56L603.65 71.68L597.15 71.68Z" fill="#ffee00" stroke="#000" stroke-width="1.0" stroke-linejoin="miter"/>
<path d="M620.60 54.96L623.85 60.08L617.35 60.08Z" fill="#ffee00" stroke="#000" stroke-width="1.0" stroke-linejoin="miter"/>
<path d="M75.20 424.37L78.45 419.25L71.95 419.25Z" fill="#ffee00" stroke="#000" stroke-width="1.0" stroke-linejoin="miter"/>
<path d="M95.40 409.39L98.65 404.27L92.15 404.27Z" fill="#ffee00" stroke="#000" stroke-width="1.0" stroke-linejoin="miter"/>
<path d="M115.60 394.56L118.85 389.44L112.35 389.44Z" fill="#ffee00" stroke="#000" stroke-width="1.0" stroke-linejoin="miter"/>
<path d="M135.80 379.81L139.05 374.69L132.55 374.69Z" fill="#ffee00" stroke="#000" stroke-width="1.0" stroke-linejoin="miter"/>
<path d="M156.00 365.19L159.25 360.06L152.75 360.06Z" fill="#ffee00" stroke="#000" stroke-width="1.0" stroke-linejoin="miter"/>
<path d="M176.20 350.71L179.45 345.59L172.95 345.59Z" fill="#ffee00" stroke="#000" stroke-width="1.0" stroke-linejoin="miter"/>
<path d="M196.40 336.17L199.65 331.04L193.15 331.04Z" fill="#ffee00" stroke="#000" stroke-width="1.0" stroke-linejoin="miter"/>
<path d="M216.60 322.13L219.85 317.00L213.35 317.00Z" fill="#ffee00" stroke="#000" stroke-width="1.0" stroke-linejoin="miter"/>
<path d="M236.80 307.90L240.05 302.78L233.55 302.78Z" fill="#ffee00" stroke="#000" stroke-width="1.0" stroke-linejoin="miter"/>
<path d="M257.00 294.08L260.25 288.96L253.75 288.96Z" fill="#ffee00" stroke="#000" stroke-width="1.0" stroke-linejoin="miter"/>
<path d="M277.20 280.10L280.45 274.98L273.95 274.98Z" fill="#ffee00" stroke="#000" stroke-width="1.0" stroke-linejoin="miter"/>
<path d="M297.40 266.57L300.65 261.44L294.15 261.44Z" fill="#ffee00" stroke="#000" stroke-width="1.0" stroke-linejoin="miter"/>
<path d="M317.60 252.77L320.85 247.64L314.35 247.64Z" fill="#ffee00" stroke="#000" stroke-width="1.0" stroke-linejoin="miter"/>
<path d="M337.80 239.44L341.05 234.31L334.55 234.31Z" fill="#ffee00" stroke="#000" stroke-width="1.0" stroke-linejoin="miter"/>
<path d="M358.00 225.43L361.25 220.30L354.75 220.30Z" fill="#ffee00" stroke="#000" stroke-width="1.0" stroke-linejoin="miter"/>
<path d="M378.20 212.28L381.45 207.16L374.95 207.16Z" fill="#ffee00" stroke="#000" stroke-width="1.0" stroke-linejoin="miter"/>
<path d="M398.40 199.44L401.65 194.31L395.15 194.31Z" fill="#ffee00" stroke="#000" stroke-width="1.0" stroke-linejoin="miter"/>
<path d="M418.60 186.10L421.85 180.97L415.35 180.97Z" fill="#ffee00" stroke="#000" stroke-width="1.0" stroke-linejoin="miter"/>
<path d="M438.80 172.65L442.05 167.53L435.55 167.53Z" fill="#ffee00" stroke="#000" stroke-width="1.0" stroke-linejoin="miter"/>
<path d="M459.00 160.72L462.25 155.59L455.75 155.59Z" fill="#ffee00" stroke="#000" stroke-width="1.0" stroke-linejoin="miter"/>
<path d="M479.20 147.18L482.45 142.05L475.95 142.05Z" fill="#ffee00" stroke="#000" stroke-width="1.0" stroke-linejoin="miter"/>
<path d="M499.40 135.03L502.65 129.90L496.15 129.90Z" fill="#ffee00" stroke="#000" stroke-width="1.0" stroke-linejoin="miter"/>
<path d="M519.60 122.45L522.85 117.33L516.35 117.33Z" fill="#ffee00" stroke="#000" stroke-width="1.0" stroke-linejoin="miter"/>
<path d="M539.80 109.63L543.05 104.50L536.55 104.50Z" fill="#ffee00" stroke="#000" stroke-width="1.0" stroke-linejoin="miter"/>
<path d="M560.00 97.95L563.25 92.82L556.75 92.82Z" fill="#ffee00" stroke="#000" stroke-width="1.0" stroke-linejoin="miter"/>
<path d="M580.20 85.64L583.45 80.52L576.95 80.52Z" fill="#ffee00" stroke="#000" stroke-width="1.0" stroke-linejoin="miter"/>
<path d="M600.40 73.34L603.65 68.22L597.15 68.22Z" fill="#ffee00" stroke="#000" stroke-width="1.0" stroke-linejoin="miter"/>
<path d="M620.60 60.96L623.85 55.84L617.35 55.84Z" fill="#ffee00" stroke="#000" stroke-width="1.0" stroke-linejoin="miter"/>
<path d="M75.20 418.97L78.08 422.02L75.20 425.07L72.33 422.02Z" fill="#ffee00" stroke="#000" stroke-width="1.0"/>
<path d="M95.40 404.10L98.28 407.15L95.40 410.20L92.53 407.15Z" fill="#ffee00" stroke="#000" stroke-width="1.0"/>
<path d="M115.60 389.34L118.47 392.39L115.60 395.44L112.72 392.39Z" fill="#ffee00" stroke="#000" stroke-width="1.0"/>
<path d="M135.80 374.65L138.68 377.70L135.80 380.75L132.93 377.70Z" fill="#ffee00" stroke="#000" stroke-width="1.0"/>
<path d="M156.00 360.15L158.88 363.20L156.00 366.25L153.12 363.20Z" fill="#ffee00" stroke="#000" stroke-width="1.0"/>
<path d="M176.20 345.75L179.07 348.80L176.20 351.85L173.32 348.80Z" fill="#ffee00" stroke="#000" stroke-width="1.0"/>
<path d="M196.40 331.57L199.28 334.62L196.40 337.67L193.53 334.62Z" fill="#ffee00" stroke="#000" stroke-width="1.0"/>
<path d="M216.60 317.38L219.47 320.43L216.60 323.48L213.72 320.43Z" fill="#ffee00" stroke="#000" stroke-width="1.0"/>
<path d="M236.80 303.38L239.67 306.43L236.80 309.48L233.92 306.43Z" fill="#ffee00" stroke="#000" stroke-width="1.0"/>
<path d="M257.00 289.09L259.88 292.14L257.00 295.19L254.12 292.14Z" fill="#ffee00" stroke="#000" stroke-width="1.0"/>
<path d="M277.20 275.58L280.07 278.63L277.20 281.68L274.32 278.63Z" fill="#ffee00" stroke="#000" stroke-width="1.0"/>
<path d="M297.40 261.97L300.27 265.02L297.40 268.07L294.52 265.02Z" fill="#ffee00" stroke="#000" stroke-width="1.0"/>
<path d="M317.60 248.48L320.48 251.53L317.60 254.58L314.73 251.53Z" fill="#ffee00" stroke="#000" stroke-width="1.0"/>
<path d="M337.80 234.46L340.68 237.51L337.80 240.56L334.93 237.51Z" fill="#ffee00" stroke="#000" stroke-width="1.0"/>
<path d="M358.00 221.09L360.88 224.14L358.00 227.19L355.12 224.14Z" fill="#ffee00" stroke="#000" stroke-width="1.0"/>
<path d="M378.20 208.05L381.07 211.10L378.20 214.15L375.32 211.10Z" fill="#ffee00" stroke="#000" stroke-width="1.0"/>
<path d="M398.40 195.33L401.27 198.38L398.40 201.43L395.52 198.38Z" fill="#ffee00" stroke="#000" stroke-width="1.0"/>
<path d="M418.60 182.42L421.47 185.47L418.60 188.52L415.72 185.47Z" fill="#ffee00" stroke="#000" stroke-width="1.0"/>
<path d="M438.80 169.53L441.67 172.58L438.80 175.63L435.92 172.58Z" fill="#ffee00" stroke="#000" stroke-width="1.0"/>
<path d="M459.00 156.63L461.88 159.68L459.00 162.73L456.12 159.68Z" fill="#ffee00" stroke="#000" stroke-width="1.0"/>
<path d="M479.20 144.37L482.08 147.42L479.20 150.47L476.33 147.42Z" fill="#ffee00" stroke="#000" stroke-width="1.0"/>
<path d="M499.40 131.54L502.27 134.59L499.40 137.64L496.52 134.59Z" fill="#ffee00" stroke="#000" stroke-width="1.0"/>
<path d="M519.60 119.40L522.47 122.45L519.60 125.50L516.72 122.45Z" fill="#ffee00" stroke="#000" stroke-width="1.0"/>
<path d="M539.80 106.24L542.67 109.29L539.80 112.34L536.92 109.29Z" fill="#ffee00" stroke="#000" stroke-width="1.0"/>
<path d="M560.00 94.06L562.88 97.11L560.00 100.16L557.12 97.11Z" fill="#ffee00" stroke="#000" stroke-width="1.0"/>
<path d="M580.20 82.61L583.08 85.66L580.20 88.71L577.33 85.66Z" fill="#ffee00" stroke="#000" stroke-width="1.0"/>
<path d="M600.40 71.14L603.27 74.19L600.40 77.24L597.52 74.19Z" fill="#ffee00" stroke="#000" stroke-width="1.0"/>
<path d="M620.60 58.28L623.48 61.33L620.60 64.38L617.73 61.33Z" fill="#ffee00" stroke="#000" stroke-width="1.0"/>
<path d="M438.80 164.87V166.49M435.70 164.87H441.90M435.70 166.49H441.90" stroke="#06064e" stroke-width="1.4" fill="none"/>
<path d="M459.00 151.71V153.41M455.90 151.71H462.10M455.90 153.41H462.10" stroke="#06064e" stroke-width="1.4" fill="none"/>
<path d="M479.20 138.48V140.27M476.10 138.48H482.30M476.10 140.27H482.30" stroke="#06064e" stroke-width="1.4" fill="none"/>
<path d="M499.40 125.23V127.09M496.30 125.23H502.50M496.30 127.09H502.50" stroke="#06064e" stroke-width="1.4" fill="none"/>
<path d="M519.60 112.91V114.85M516.50 112.91H522.70M516.50 114.85H522.70" stroke="#06064e" stroke-width="1.4" fill="none"/>
<path d="M539.80 100.17V102.19M536.70 100.17H542.90M536.70 102.19H542.90" stroke="#06064e" stroke-width="1.4" fill="none"/>
<path d="M560.00 86.54V88.64M556.90 86.54H563.10M556.90 88.64H563.10" stroke="#06064e" stroke-width="1.4" fill="none"/>
<path d="M580.20 75.11V77.28M577.10 75.11H583.30M577.10 77.28H583.30" stroke="#06064e" stroke-width="1.4" fill="none"/>
<path d="M600.40 61.76V64.00M597.30 61.76H603.50M597.30 64.00H603.50" stroke="#06064e" stroke-width="1.4" fill="none"/>
<path d="M620.60 49.47V51.79M617.50 49.47H623.70M617.50 51.79H623.70" stroke="#06064e" stroke-width="1.4" fill="none"/>
<path d="M337.80 232.63V234.26M334.70 232.63H340.90M334.70 234.26H340.90" stroke="#06064e" stroke-width="1.4" fill="none"/>
<path d="M358.00 219.01V220.75M354.90 219.01H361.10M354.90 220.75H361.10" stroke="#06064e" stroke-width="1.4" fill="none"/>
<path d="M378.20 205.32V207.17M375.10 205.32H381.30M375.10 207.17H381.30" stroke="#06064e" stroke-width="1.4" fill="none"/>
<path d="M398.40 192.20V194.15M395.30 192.20H401.50M395.30 194.15H401.50" stroke="#06064e" stroke-width="1.4" fill="none"/>
<path d="M418.60 178.96V181.02M415.50 178.96H421.70M415.50 181.02H421.70" stroke="#06064e" stroke-width="1.4" fill="none"/>
<path d="M438.80 165.53V167.69M435.70 165.53H441.90M435.70 167.69H441.90" stroke="#06064e" stroke-width="1.4" fill="none"/>
<path d="M459.00 152.04V154.31M455.90 152.04H462.10M455.90 154.31H462.10" stroke="#06064e" stroke-width="1.4" fill="none"/>
<path d="M479.20 139.22V141.59M476.10 139.22H482.30M476.10 141.59H482.30" stroke="#06064e" stroke-width="1.4" fill="none"/>
<path d="M499.40 125.30V127.78M496.30 125.30H502.50M496.30 127.78H502.50" stroke="#06064e" stroke-width="1.4" fill="none"/>
<path d="M519.60 112.71V115.30M516.50 112.71H522.70M516.50 115.30H522.70" stroke="#06064e" stroke-width="1.4" fill="none"/>
<path d="M539.80 99.80V102.49M536.70 99.80H542.90M536.70 102.49H542.90" stroke="#06064e" stroke-width="1.4" fill="none"/>
<path d="M560.00 87.08V89.87M556.90 87.08H563.10M556.90 89.87H563.10" stroke="#06064e" stroke-width="1.4" fill="none"/>
<path d="M580.20 74.39V77.28M577.10 74.39H583.30M577.10 77.28H583.30" stroke="#06064e" stroke-width="1.4" fill="none"/>
<path d="M600.40 62.17V65.16M597.30 62.17H603.50M597.30 65.16H603.50" stroke="#06064e" stroke-width="1.4" fill="none"/>
<path d="M620.60 50.54V53.62M617.50 50.54H623.70M617.50 53.62H623.70" stroke="#06064e" stroke-width="1.4" fill="none"/>
<path d="M277.20 274.71V276.33M274.10 274.71H280.30M274.10 276.33H280.30" stroke="#06064e" stroke-width="1.4" fill="none"/>
<path d="M297.40 260.98V262.73M294.30 260.98H300.50M294.30 262.73H300.50" stroke="#06064e" stroke-width="1.4" fill="none"/>
<path d="M317.60 246.60V248.49M314.50 246.60H320.70M314.50 248.49H320.70" stroke="#06064e" stroke-width="1.4" fill="none"/>
<path d="M337.80 232.51V234.54M334.70 232.51H340.90M334.70 234.54H340.90" stroke="#06064e" stroke-width="1.4" fill="none"/>
<path d="M358.00 219.13V221.30M354.90 219.13H361.10M354.90 221.30H361.10" stroke="#06064e" stroke-width="1.4" fill="none"/>
<path d="M378.20 205.56V207.87M375.10 205.56H381.30M375.10 207.87H381.30" stroke="#06064e" stroke-width="1.4" fill="none"/>
<path d="M398.40 191.92V194.35M395.30 191.92H401.50M395.30 194.35H401.50" stroke="#06064e" stroke-width="1.4" fill="none"/>
<path d="M418.60 178.25V180.83M415.50 178.25H421.70M415.50 180.83H421.70" stroke="#06064e" stroke-width="1.4" fill="none"/>
<path d="M438.80 164.81V167.51M435.70 164.81H441.90M435.70 167.51H441.90" stroke="#06064e" stroke-width="1.4" fill="none"/>
<path d="M459.00 151.72V154.56M455.90 151.72H462.10M455.90 154.56H462.10" stroke="#06064e" stroke-width="1.4" fill="none"/>
<path d="M479.20 138.56V141.53M476.10 138.56H482.30M476.10 141.53H482.30" stroke="#06064e" stroke-width="1.4" fill="none"/>
<path d="M499.40 126.23V129.32M496.30 126.23H502.50M496.30 129.32H502.50" stroke="#06064e" stroke-width="1.4" fill="none"/>
<path d="M519.60 113.24V116.46M516.50 113.24H522.70M516.50 116.46H522.70" stroke="#06064e" stroke-width="1.4" fill="none"/>
<path d="M539.80 100.31V103.66M536.70 100.31H542.90M536.70 103.66H542.90" stroke="#06064e" stroke-width="1.4" fill="none"/>
<path d="M560.00 86.93V90.42M556.90 86.93H563.10M556.90 90.42H563.10" stroke="#06064e" stroke-width="1.4" fill="none"/>
<path d="M580.20 74.96V78.56M577.10 74.96H583.30M577.10 78.56H583.30" stroke="#06064e" stroke-width="1.4" fill="none"/>
<path d="M600.40 62.09V65.82M597.30 62.09H603.50M597.30 65.82H603.50" stroke="#06064e" stroke-width="1.4" fill="none"/>
<path d="M620.60 50.57V54.41M617.50 50.57H623.70M617.50 54.41H623.70" stroke="#06064e" stroke-width="1.4" fill="none"/>
<path d="M257.00 289.24V291.00M253.90 289.24H260.10M253.90 291.00H260.10" stroke="#06064e" stroke-width="1.4" fill="none"/>
<path d="M277.20 274.55V276.49M274.10 274.55H280.30M274.10 276.49H280.30" stroke="#06064e" stroke-width="1.4" fill="none"/>
<path d="M297.40 260.92V263.02M294.30 260.92H300.50M294.30 263.02H300.50" stroke="#06064e" stroke-width="1.4" fill="none"/>
<path d="M317.60 246.36V248.63M314.50 246.36H320.70M314.50 248.63H320.70" stroke="#06064e" stroke-width="1.4" fill="none"/>
<path d="M337.80 232.49V234.93M334.70 232.49H340.90M334.70 234.93H340.90" stroke="#06064e" stroke-width="1.4" fill="none"/>
<path d="M358.00 219.49V222.09M354.90 219.49H361.10M354.90 222.09H361.10" stroke="#06064e" stroke-width="1.4" fill="none"/>
<path d="M378.20 205.45V208.21M375.10 205.45H381.30M375.10 208.21H381.30" stroke="#06064e" stroke-width="1.4" fill="none"/>
<path d="M398.40 191.54V194.47M395.30 191.54H401.50M395.30 194.47H401.50" stroke="#06064e" stroke-width="1.4" fill="none"/>
<path d="M418.60 177.92V181.01M415.50 177.92H421.70M415.50 181.01H421.70" stroke="#06064e" stroke-width="1.4" fill="none"/>
<path d="M438.80 165.12V168.36M435.70 165.12H441.90M435.70 168.36H441.90" stroke="#06064e" stroke-width="1.4" fill="none"/>
<path d="M459.00 152.10V155.49M455.90 152.10H462.10M455.90 155.49H462.10" stroke="#06064e" stroke-width="1.4" fill="none"/>
<path d="M479.20 139.05V142.61M476.10 139.05H482.30M476.10 142.61H482.30" stroke="#06064e" stroke-width="1.4" fill="none"/>
<path d="M499.40 125.14V128.86M496.30 125.14H502.50M496.30 128.86H502.50" stroke="#06064e" stroke-width="1.4" fill="none"/>
<path d="M519.60 113.16V117.02M516.50 113.16H522.70M516.50 117.02H522.70" stroke="#06064e" stroke-width="1.4" fill="none"/>
<path d="M539.80 99.87V103.89M536.70 99.87H542.90M536.70 103.89H542.90" stroke="#06064e" stroke-width="1.4" fill="none"/>
<path d="M560.00 87.79V91.95M556.90 87.79H563.10M556.90 91.95H563.10" stroke="#06064e" stroke-width="1.4" fill="none"/>
<path d="M580.20 74.67V78.99M577.10 74.67H583.30M577.10 78.99H583.30" stroke="#06064e" stroke-width="1.4" fill="none"/>
<path d="M600.40 61.55V66.02M597.30 61.55H603.50M597.30 66.02H603.50" stroke="#06064e" stroke-width="1.4" fill="none"/>
<path d="M620.60 50.42V55.03M617.50 50.42H623.70M617.50 55.03H623.70" stroke="#06064e" stroke-width="1.4" fill="none"/>
<path d="M196.40 332.13V333.79M193.30 332.13H199.50M193.30 333.79H199.50" stroke="#06064e" stroke-width="1.4" fill="none"/>
<path d="M216.60 317.80V319.70M213.50 317.80H219.70M213.50 319.70H219.70" stroke="#06064e" stroke-width="1.4" fill="none"/>
<path d="M236.80 303.41V305.53M233.70 303.41H239.90M233.70 305.53H239.90" stroke="#06064e" stroke-width="1.4" fill="none"/>
<path d="M257.00 288.82V291.17M253.90 288.82H260.10M253.90 291.17H260.10" stroke="#06064e" stroke-width="1.4" fill="none"/>
<path d="M277.20 274.63V277.21M274.10 274.63H280.30M274.10 277.21H280.30" stroke="#06064e" stroke-width="1.4" fill="none"/>
<path d="M297.40 260.63V263.43M294.30 260.63H300.50M294.30 263.43H300.50" stroke="#06064e" stroke-width="1.4" fill="none"/>
<path d="M317.60 246.77V249.79M314.50 246.77H320.70M314.50 249.79H320.70" stroke="#06064e" stroke-width="1.4" fill="none"/>
<path d="M337.80 232.73V235.97M334.70 232.73H340.90M334.70 235.97H340.90" stroke="#06064e" stroke-width="1.4" fill="none"/>
<path d="M358.00 218.98V222.44M354.90 218.98H361.10M354.90 222.44H361.10" stroke="#06064e" stroke-width="1.4" fill="none"/>
<path d="M378.20 204.83V208.52M375.10 204.83H381.30M375.10 208.52H381.30" stroke="#06064e" stroke-width="1.4" fill="none"/>
<path d="M398.40 192.08V195.96M395.30 192.08H401.50M395.30 195.96H401.50" stroke="#06064e" stroke-width="1.4" fill="none"/>
<path d="M418.60 177.87V181.98M415.50 177.87H421.70M415.50 181.98H421.70" stroke="#06064e" stroke-width="1.4" fill="none"/>
<path d="M438.80 164.42V168.74M435.70 164.42H441.90M435.70 168.74H441.90" stroke="#06064e" stroke-width="1.4" fill="none"/>
<path d="M459.00 151.98V156.50M455.90 151.98H462.10M455.90 156.50H462.10" stroke="#06064e" stroke-width="1.4" fill="none"/>
<path d="M479.20 137.91V142.66M476.10 137.91H482.30M476.10 142.66H482.30" stroke="#06064e" stroke-width="1.4" fill="none"/>
<path d="M499.40 125.13V130.08M496.30 125.13H502.50M496.30 130.08H502.50" stroke="#06064e" stroke-width="1.4" fill="none"/>
<path d="M519.60 111.96V117.12M516.50 111.96H522.70M516.50 117.12H522.70" stroke="#06064e" stroke-width="1.4" fill="none"/>
<path d="M539.80 99.96V105.31M536.70 99.96H542.90M536.70 105.31H542.90" stroke="#06064e" stroke-width="1.4" fill="none"/>
<path d="M560.00 87.16V92.72M556.90 87.16H563.10M556.90 92.72H563.10" stroke="#06064e" stroke-width="1.4" fill="none"/>
<path d="M580.20 74.55V80.31M577.10 74.55H583.30M577.10 80.31H583.30" stroke="#06064e" stroke-width="1.4" fill="none"/>
<path d="M600.40 61.17V67.14M597.30 61.17H603.50M597.30 67.14H603.50" stroke="#06064e" stroke-width="1.4" fill="none"/>
<path d="M620.60 49.41V55.56M617.50 49.41H623.70M617.50 55.56H623.70" stroke="#06064e" stroke-width="1.4" fill="none"/>
<rect x="72.40" y="419.01" width="5.60" height="5.60" fill="#06064e" stroke="#06064e" stroke-width="1.0"/>
<rect x="92.60" y="403.91" width="5.60" height="5.60" fill="#06064e" stroke="#06064e" stroke-width="1.0"/>
<rect x="112.80" y="388.98" width="5.60" height="5.60" fill="#06064e" stroke="#06064e" stroke-width="1.0"/>
<rect x="133.00" y="374.02" width="5.60" height="5.60" fill="#06064e" stroke="#06064e" stroke-width="1.0"/>
<rect x="153.20" y="359.21" width="5.60" height="5.60" fill="#06064e" stroke="#06064e" stroke-width="1.0"/>
<rect x="173.40" y="344.51" width="5.60" height="5.60" fill="#06064e" stroke="#06064e" stroke-width="1.0"/>
<rect x="193.60" y="330.06" width="5.60" height="5.60" fill="#06064e" stroke="#06064e" stroke-width="1.0"/>
<rect x="213.80" y="315.45" width="5.60" height="5.60" fill="#06064e" stroke="#06064e" stroke-width="1.0"/>
<rect x="234.00" y="301.34" width="5.60" height="5.60" fill="#06064e" stroke="#06064e" stroke-width="1.0"/>
<rect x="254.20" y="286.95" width="5.60" height="5.60" fill="#06064e" stroke="#06064e" stroke-width="1.0"/>
<rect x="274.40" y="272.92" width="5.60" height="5.60" fill="#06064e" stroke="#06064e" stroke-width="1.0"/>
<rect x="294.60" y="258.67" width="5.60" height="5.60" fill="#06064e" stroke="#06064e" stroke-width="1.0"/>
<rect x="314.80" y="244.99" width="5.60" height="5.60" fill="#06064e" stroke="#06064e" stroke-width="1.0"/>
<rect x="335.00" y="231.19" width="5.60" height="5.60" fill="#06064e" stroke="#06064e" stroke-width="1.0"/>
<rect x="355.20" y="217.23" width="5.60" height="5.60" fill="#06064e" stroke="#06064e" stroke-width="1.0"/>
<rect x="375.40" y="203.67" width="5.60" height="5.60" fill="#06064e" stroke="#06064e" stroke-width="1.0"/>
<rect x="395.60" y="189.81" width="5.60" height="5.60" fill="#06064e" stroke="#06064e" stroke-width="1.0"/>
<rect x="415.80" y="176.44" width="5.60" height="5.60" fill="#06064e" stroke="#06064e" stroke-width="1.0"/>
<rect x="436.00" y="162.88" width="5.60" height="5.60" fill="#06064e" stroke="#06064e" stroke-width="1.0"/>
<rect x="456.20" y="149.76" width="5.60" height="5.60" fill="#06064e" stroke="#06064e" stroke-width="1.0"/>
<rect x="476.40" y="136.58" width="5.60" height="5.60" fill="#06064e" stroke="#06064e" stroke-width="1.0"/>
<rect x="496.60" y="123.36" width="5.60" height="5.60" fill="#06064e" stroke="#06064e" stroke-width="1.0"/>
<rect x="516.80" y="111.08" width="5.60" height="5.60" fill="#06064e" stroke="#06064e" stroke-width="1.0"/>
<rect x="537.00" y="98.38" width="5.60" height="5.60" fill="#06064e" stroke="#06064e" stroke-width="1.0"/>
<rect x="557.20" y="84.79" width="5.60" height="5.60" fill="#06064e" stroke="#06064e" stroke-width="1.0"/>
<rect x="577.40" y="73.39" width="5.60" height="5.60" fill="#06064e" stroke="#06064e" stroke-width="1.0"/>
<rect x="597.60" y="60.08" width="5.60" height="5.60" fill="#06064e" stroke="#06064e" stroke-width="1.0"/>
<rect x="617.80" y="47.83" width="5.60" height="5.60" fill="#06064e" stroke="#06064e" stroke-width="1.0"/>
<circle cx="75.20" cy="421.83" r="3.30" fill="#06064e" stroke="#06064e" stroke-width="1.0"/>
<circle cx="95.40" cy="406.66" r="3.30" fill="#06064e" stroke="#06064e" stroke-width="1.0"/>
<circle cx="115.60" cy="391.63" r="3.30" fill="#06064e" stroke="#06064e" stroke-width="1.0"/>
<circle cx="135.80" cy="376.79" r="3.30" fill="#06064e" stroke="#06064e" stroke-width="1.0"/>
<circle cx="156.00" cy="361.97" r="3.30" fill="#06064e" stroke="#06064e" stroke-width="1.0"/>
<circle cx="176.20" cy="347.25" r="3.30" fill="#06064e" stroke="#06064e" stroke-width="1.0"/>
<circle cx="196.40" cy="332.94" r="3.30" fill="#06064e" stroke="#06064e" stroke-width="1.0"/>
<circle cx="216.60" cy="318.31" r="3.30" fill="#06064e" stroke="#06064e" stroke-width="1.0"/>
<circle cx="236.80" cy="303.96" r="3.30" fill="#06064e" stroke="#06064e" stroke-width="1.0"/>
<circle cx="257.00" cy="289.51" r="3.30" fill="#06064e" stroke="#06064e" stroke-width="1.0"/>
<circle cx="277.20" cy="275.37" r="3.30" fill="#06064e" stroke="#06064e" stroke-width="1.0"/>
<circle cx="297.40" cy="261.30" r="3.30" fill="#06064e" stroke="#06064e" stroke-width="1.0"/>
<circle cx="317.60" cy="247.53" r="3.30" fill="#06064e" stroke="#06064e" stroke-width="1.0"/>
<circle cx="337.80" cy="233.44" r="3.30" fill="#06064e" stroke="#06064e" stroke-width="1.0"/>
<circle cx="358.00" cy="219.88" r="3.30" fill="#06064e" stroke="#06064e" stroke-width="1.0"/>
<circle cx="378.20" cy="206.24" r="3.30" fill="#06064e" stroke="#06064e" stroke-width="1.0"/>
<circle cx="398.40" cy="193.18" r="3.30" fill="#06064e" stroke="#06064e" stroke-width="1.0"/>
<circle cx="418.60" cy="179.99" r="3.30" fill="#06064e" stroke="#06064e" stroke-width="1.0"/>
<circle cx="438.80" cy="166.61" r="3.30" fill="#06064e" stroke="#06064e" stroke-width="1.0"/>
<circle cx="459.00" cy="153.18" r="3.30" fill="#06064e" stroke="#06064e" stroke-width="1.0"/>
<circle cx="479.20" cy="140.40" r="3.30" fill="#06064e" stroke="#06064e" stroke-width="1.0"/>
<circle cx="499.40" cy="126.54" r="3.30" fill="#06064e" stroke="#06064e" stroke-width="1.0"/>
<circle cx="519.60" cy="114.01" r="3.30" fill="#06064e" stroke="#06064e" stroke-width="1.0"/>
<circle cx="539.80" cy="101.14" r="3.30" fill="#06064e" stroke="#06064e" stroke-width="1.0"/>
<circle cx="560.00" cy="88.48" r="3.30" fill="#06064e" stroke="#06064e" stroke-width="1.0"/>
<circle cx="580.20" cy="75.84" r="3.30" fill="#06064e" stroke="#06064e" stroke-width="1.0"/>
<circle cx="600.40" cy="63.67" r="3.30" fill="#06064e" stroke="#06064e" stroke-width="1.0"/>
<circle cx="620.60" cy="52.08" r="3.30" fill="#06064e" stroke="#06064e" stroke-width="1.0"/>
<path d="M75.20 418.98L78.84 424.72L71.56 424.72Z" fill="#06064e" stroke="#06064e" stroke-width="1.0" stroke-linejoin="miter"/>
<path d="M95.40 403.88L99.04 409.62L91.76 409.62Z" fill="#06064e" stroke="#06064e" stroke-width="1.0" stroke-linejoin="miter"/>
<path d="M115.60 388.92L119.24 394.66L111.96 394.66Z" fill="#06064e" stroke="#06064e" stroke-width="1.0" stroke-linejoin="miter"/>
<path d="M135.80 374.03L139.44 379.77L132.16 379.77Z" fill="#06064e" stroke="#06064e" stroke-width="1.0" stroke-linejoin="miter"/>
<path d="M156.00 359.22L159.64 364.96L152.36 364.96Z" fill="#06064e" stroke="#06064e" stroke-width="1.0" stroke-linejoin="miter"/>
<path d="M176.20 344.76L179.84 350.50L172.56 350.50Z" fill="#06064e" stroke="#06064e" stroke-width="1.0" stroke-linejoin="miter"/>
<path d="M196.40 329.94L200.04 335.68L192.76 335.68Z" fill="#06064e" stroke="#06064e" stroke-width="1.0" stroke-linejoin="miter"/>
<path d="M216.60 315.71L220.24 321.45L212.96 321.45Z" fill="#06064e" stroke="#06064e" stroke-width="1.0" stroke-linejoin="miter"/>
<path d="M236.80 301.47L240.44 307.21L233.16 307.21Z" fill="#06064e" stroke="#06064e" stroke-width="1.0" stroke-linejoin="miter"/>
<path d="M257.00 287.14L260.64 292.88L253.36 292.88Z" fill="#06064e" stroke="#06064e" stroke-width="1.0" stroke-linejoin="miter"/>
<path d="M277.20 272.72L280.84 278.46L273.56 278.46Z" fill="#06064e" stroke="#06064e" stroke-width="1.0" stroke-linejoin="miter"/>
<path d="M297.40 259.05L301.04 264.79L293.76 264.79Z" fill="#06064e" stroke="#06064e" stroke-width="1.0" stroke-linejoin="miter"/>
<path d="M317.60 244.74L321.24 250.48L313.96 250.48Z" fill="#06064e" stroke="#06064e" stroke-width="1.0" stroke-linejoin="miter"/>
<path d="M337.80 230.73L341.44 236.47L334.16 236.47Z" fill="#06064e" stroke="#06064e" stroke-width="1.0" stroke-linejoin="miter"/>
<path d="M358.00 217.41L361.64 223.15L354.36 223.15Z" fill="#06064e" stroke="#06064e" stroke-width="1.0" stroke-linejoin="miter"/>
<path d="M378.20 203.91L381.84 209.65L374.56 209.65Z" fill="#06064e" stroke="#06064e" stroke-width="1.0" stroke-linejoin="miter"/>
<path d="M398.40 190.33L402.04 196.07L394.76 196.07Z" fill="#06064e" stroke="#06064e" stroke-width="1.0" stroke-linejoin="miter"/>
<path d="M418.60 176.74L422.24 182.48L414.96 182.48Z" fill="#06064e" stroke="#06064e" stroke-width="1.0" stroke-linejoin="miter"/>
<path d="M438.80 163.36L442.44 169.10L435.16 169.10Z" fill="#06064e" stroke="#06064e" stroke-width="1.0" stroke-linejoin="miter"/>
<path d="M459.00 150.34L462.64 156.08L455.36 156.08Z" fill="#06064e" stroke="#06064e" stroke-width="1.0" stroke-linejoin="miter"/>
<path d="M479.20 137.24L482.84 142.98L475.56 142.98Z" fill="#06064e" stroke="#06064e" stroke-width="1.0" stroke-linejoin="miter"/>
<path d="M499.40 124.97L503.04 130.71L495.76 130.71Z" fill="#06064e" stroke="#06064e" stroke-width="1.0" stroke-linejoin="miter"/>
<path d="M519.60 112.05L523.24 117.79L515.96 117.79Z" fill="#06064e" stroke="#06064e" stroke-width="1.0" stroke-linejoin="miter"/>
<path d="M539.80 99.18L543.44 104.92L536.16 104.92Z" fill="#06064e" stroke="#06064e" stroke-width="1.0" stroke-linejoin="miter"/>
<path d="M560.00 85.88L563.64 91.62L556.36 91.62Z" fill="#06064e" stroke="#06064e" stroke-width="1.0" stroke-linejoin="miter"/>
<path d="M580.20 73.96L583.84 79.70L576.56 79.70Z" fill="#06064e" stroke="#06064e" stroke-width="1.0" stroke-linejoin="miter"/>
<path d="M600.40 61.15L604.04 66.89L596.76 66.89Z" fill="#06064e" stroke="#06064e" stroke-width="1.0" stroke-linejoin="miter"/>
<path d="M620.60 49.69L624.24 55.43L616.96 55.43Z" fill="#06064e" stroke="#06064e" stroke-width="1.0" stroke-linejoin="miter"/>
<path d="M75.20 424.63L78.84 418.89L71.56 418.89Z" fill="#06064e" stroke="#06064e" stroke-width="1.0" stroke-linejoin="miter"/>
<path d="M95.40 409.54L99.04 403.80L91.76 403.80Z" fill="#06064e" stroke="#06064e" stroke-width="1.0" stroke-linejoin="miter"/>
<path d="M115.60 394.50L119.24 388.76L111.96 388.76Z" fill="#06064e" stroke="#06064e" stroke-width="1.0" stroke-linejoin="miter"/>
<path d="M135.80 379.62L139.44 373.88L132.16 373.88Z" fill="#06064e" stroke="#06064e" stroke-width="1.0" stroke-linejoin="miter"/>
<path d="M156.00 364.85L159.64 359.11L152.36 359.11Z" fill="#06064e" stroke="#06064e" stroke-width="1.0" stroke-linejoin="miter"/>
<path d="M176.20 350.32L179.84 344.58L172.56 344.58Z" fill="#06064e" stroke="#06064e" stroke-width="1.0" stroke-linejoin="miter"/>
<path d="M196.40 335.69L200.04 329.95L192.76 329.95Z" fill="#06064e" stroke="#06064e" stroke-width="1.0" stroke-linejoin="miter"/>
<path d="M216.60 321.27L220.24 315.53L212.96 315.53Z" fill="#06064e" stroke="#06064e" stroke-width="1.0" stroke-linejoin="miter"/>
<path d="M236.80 306.94L240.44 301.20L233.16 301.20Z" fill="#06064e" stroke="#06064e" stroke-width="1.0" stroke-linejoin="miter"/>
<path d="M257.00 292.92L260.64 287.18L253.36 287.18Z" fill="#06064e" stroke="#06064e" stroke-width="1.0" stroke-linejoin="miter"/>
<path d="M277.20 278.32L280.84 272.58L273.56 272.58Z" fill="#06064e" stroke="#06064e" stroke-width="1.0" stroke-linejoin="miter"/>
<path d="M297.40 264.77L301.04 259.03L293.76 259.03Z" fill="#06064e" stroke="#06064e" stroke-width="1.0" stroke-linejoin="miter"/>
<path d="M317.60 250.30L321.24 244.56L313.96 244.56Z" fill="#06064e" stroke="#06064e" stroke-width="1.0" stroke-linejoin="miter"/>
<path d="M337.80 236.51L341.44 230.77L334.16 230.77Z" fill="#06064e" stroke="#06064e" stroke-width="1.0" stroke-linejoin="miter"/>
<path d="M358.00 223.59L361.64 217.85L354.36 217.85Z" fill="#06064e" stroke="#06064e" stroke-width="1.0" stroke-linejoin="miter"/>
<path d="M378.20 209.63L381.84 203.89L374.56 203.89Z" fill="#06064e" stroke="#06064e" stroke-width="1.0" stroke-linejoin="miter"/>
<path d="M398.40 195.80L402.04 190.06L394.76 190.06Z" fill="#06064e" stroke="#06064e" stroke-width="1.0" stroke-linejoin="miter"/>
<path d="M418.60 182.27L422.24 176.53L414.96 176.53Z" fill="#06064e" stroke="#06064e" stroke-width="1.0" stroke-linejoin="miter"/>
<path d="M438.80 169.54L442.44 163.80L435.16 163.80Z" fill="#06064e" stroke="#06064e" stroke-width="1.0" stroke-linejoin="miter"/>
<path d="M459.00 156.60L462.64 150.86L455.36 150.86Z" fill="#06064e" stroke="#06064e" stroke-width="1.0" stroke-linejoin="miter"/>
<path d="M479.20 143.63L482.84 137.89L475.56 137.89Z" fill="#06064e" stroke="#06064e" stroke-width="1.0" stroke-linejoin="miter"/>
<path d="M499.40 129.80L503.04 124.06L495.76 124.06Z" fill="#06064e" stroke="#06064e" stroke-width="1.0" stroke-linejoin="miter"/>
<path d="M519.60 117.89L523.24 112.15L515.96 112.15Z" fill="#06064e" stroke="#06064e" stroke-width="1.0" stroke-linejoin="miter"/>
<path d="M539.80 104.68L543.44 98.94L536.16 98.94Z" fill="#06064e" stroke="#06064e" stroke-width="1.0" stroke-linejoin="miter"/>
<path d="M560.00 92.67L563.64 86.93L556.36 86.93Z" fill="#06064e" stroke="#06064e" stroke-width="1.0" stroke-linejoin="miter"/>
<path d="M580.20 79.63L583.84 73.89L576.56 73.89Z" fill="#06064e" stroke="#06064e" stroke-width="1.0" stroke-linejoin="miter"/>
<path d="M600.40 66.58L604.04 60.84L596.76 60.84Z" fill="#06064e" stroke="#06064e" stroke-width="1.0" stroke-linejoin="miter"/>
<path d="M620.60 55.53L624.24 49.79L616.96 49.79Z" fill="#06064e" stroke="#06064e" stroke-width="1.0" stroke-linejoin="miter"/>
<path d="M75.20 418.37L78.42 421.79L75.20 425.20L71.98 421.79Z" fill="#06064e" stroke="#06064e" stroke-width="1.0"/>
<path d="M95.40 403.31L98.62 406.72L95.40 410.14L92.18 406.72Z" fill="#06064e" stroke="#06064e" stroke-width="1.0"/>
<path d="M115.60 388.27L118.82 391.68L115.60 395.10L112.38 391.68Z" fill="#06064e" stroke="#06064e" stroke-width="1.0"/>
<path d="M135.80 373.42L139.02 376.84L135.80 380.26L132.58 376.84Z" fill="#06064e" stroke="#06064e" stroke-width="1.0"/>
<path d="M156.00 358.80L159.22 362.22L156.00 365.63L152.78 362.22Z" fill="#06064e" stroke="#06064e" stroke-width="1.0"/>
<path d="M176.20 343.93L179.42 347.35L176.20 350.76L172.98 347.35Z" fill="#06064e" stroke="#06064e" stroke-width="1.0"/>
<path d="M196.40 329.54L199.62 332.96L196.40 336.37L193.18 332.96Z" fill="#06064e" stroke="#06064e" stroke-width="1.0"/>
<path d="M216.60 315.33L219.82 318.75L216.60 322.17L213.38 318.75Z" fill="#06064e" stroke="#06064e" stroke-width="1.0"/>
<path d="M236.80 301.05L240.02 304.47L236.80 307.88L233.58 304.47Z" fill="#06064e" stroke="#06064e" stroke-width="1.0"/>
<path d="M257.00 286.58L260.22 290.00L257.00 293.41L253.78 290.00Z" fill="#06064e" stroke="#06064e" stroke-width="1.0"/>
<path d="M277.20 272.50L280.42 275.92L277.20 279.34L273.98 275.92Z" fill="#06064e" stroke="#06064e" stroke-width="1.0"/>
<path d="M297.40 258.62L300.62 262.03L297.40 265.45L294.18 262.03Z" fill="#06064e" stroke="#06064e" stroke-width="1.0"/>
<path d="M317.60 244.86L320.82 248.28L317.60 251.69L314.38 248.28Z" fill="#06064e" stroke="#06064e" stroke-width="1.0"/>
<path d="M337.80 230.94L341.02 234.35L337.80 237.77L334.58 234.35Z" fill="#06064e" stroke="#06064e" stroke-width="1.0"/>
<path d="M358.00 217.30L361.22 220.71L358.00 224.13L354.78 220.71Z" fill="#06064e" stroke="#06064e" stroke-width="1.0"/>
<path d="M378.20 203.26L381.42 206.68L378.20 210.09L374.98 206.68Z" fill="#06064e" stroke="#06064e" stroke-width="1.0"/>
<path d="M398.40 190.60L401.62 194.02L398.40 197.44L395.18 194.02Z" fill="#06064e" stroke="#06064e" stroke-width="1.0"/>
<path d="M418.60 176.51L421.82 179.93L418.60 183.34L415.38 179.93Z" fill="#06064e" stroke="#06064e" stroke-width="1.0"/>
<path d="M438.80 163.16L442.02 166.58L438.80 169.99L435.58 166.58Z" fill="#06064e" stroke="#06064e" stroke-width="1.0"/>
<path d="M459.00 150.83L462.22 154.24L459.00 157.66L455.78 154.24Z" fill="#06064e" stroke="#06064e" stroke-width="1.0"/>
<path d="M479.20 136.87L482.42 140.28L479.20 143.70L475.98 140.28Z" fill="#06064e" stroke="#06064e" stroke-width="1.0"/>
<path d="M499.40 124.19L502.62 127.61L499.40 131.02L496.18 127.61Z" fill="#06064e" stroke="#06064e" stroke-width="1.0"/>
<path d="M519.60 111.13L522.82 114.54L519.60 117.96L516.38 114.54Z" fill="#06064e" stroke="#06064e" stroke-width="1.0"/>
<path d="M539.80 99.22L543.02 102.64L539.80 106.05L536.58 102.64Z" fill="#06064e" stroke="#06064e" stroke-width="1.0"/>
<path d="M560.00 86.52L563.22 89.94L560.00 93.36L556.78 89.94Z" fill="#06064e" stroke="#06064e" stroke-width="1.0"/>
<path d="M580.20 74.01L583.42 77.43L580.20 80.85L576.98 77.43Z" fill="#06064e" stroke="#06064e" stroke-width="1.0"/>
<path d="M600.40 60.74L603.62 64.15L600.40 67.57L597.18 64.15Z" fill="#06064e" stroke="#06064e" stroke-width="1.0"/>
<path d="M620.60 49.07L623.82 52.49L620.60 55.90L617.38 52.49Z" fill="#06064e" stroke="#06064e" stroke-width="1.0"/>
</g>
<rect x="55" y="11" width="606.4" height="426.5" fill="none" stroke="#000" stroke-width="1.7"/>
<path d="M176.32 437.5V431.5M297.64 437.5V431.5M297.64 11V17M418.96 437.5V431.5M418.96 11V17M540.28 437.5V431.5M540.28 11V17M55 366.54H61M661.4 366.54H655.2M55 295.58H61M661.4 295.58H655.2M55 224.62H61M661.4 224.62H655.2M55 153.66H61M661.4 153.66H655.2M55 82.70H61M661.4 82.70H655.2" stroke="#000" stroke-width="1.45" fill="none"/>
<path d="M55.1 434.2V441.2M51.6 437.7H58.6M53.9 434.2H56.3M53.9 441.2H56.3M51.6 436.5V438.9M58.6 436.5V438.9" stroke="#1a9a1a" stroke-width="0.9" fill="none"/>
<rect x="52.9" y="435.5" width="4.4" height="4.4" fill="#00ff00" stroke="#000" stroke-width="0.9"/>
<path d="M59 68.2H399.5M181.5 11V169.5" stroke="#000" stroke-width="0.9" fill="none"/>
<path d="M203.50 77.00V92.00M198.70 77.00H208.30M198.70 92.00H208.30" stroke="#06064e" stroke-width="1.6" fill="none"/>
<rect x="199.80" y="80.80" width="7.40" height="7.40" fill="#06064e" stroke="#06064e" stroke-width="1.3"/>
<path d="M248.20 77.00V92.00M243.40 77.00H253.00M243.40 92.00H253.00" stroke="#06064e" stroke-width="1.6" fill="none"/>
<circle cx="248.20" cy="84.50" r="4.37" fill="#06064e" stroke="#06064e" stroke-width="1.3"/>
<path d="M292.80 77.00V92.00M288.00 77.00H297.60M288.00 92.00H297.60" stroke="#06064e" stroke-width="1.6" fill="none"/>
<path d="M292.80 80.80L297.61 88.39L287.99 88.39Z" fill="#06064e" stroke="#06064e" stroke-width="1.3" stroke-linejoin="miter"/>
<path d="M337.50 77.00V92.00M332.70 77.00H342.30M332.70 92.00H342.30" stroke="#06064e" stroke-width="1.6" fill="none"/>
<path d="M337.50 88.20L342.31 80.61L332.69 80.61Z" fill="#06064e" stroke="#06064e" stroke-width="1.3" stroke-linejoin="miter"/>
<path d="M382.00 77.00V92.00M377.20 77.00H386.80M377.20 92.00H386.80" stroke="#06064e" stroke-width="1.6" fill="none"/>
<path d="M382.00 79.99L386.25 84.50L382.00 89.01L377.75 84.50Z" fill="#06064e" stroke="#06064e" stroke-width="1.3"/>
<path d="M203.50 102.20V117.20M198.70 102.20H208.30M198.70 117.20H208.30" stroke="#ff8800" stroke-width="1.6" fill="none"/>
<rect x="199.80" y="106.00" width="7.40" height="7.40" fill="#ffee00" stroke="#000" stroke-width="1.3"/>
<path d="M248.20 102.20V117.20M243.40 102.20H253.00M243.40 117.20H253.00" stroke="#ff8800" stroke-width="1.6" fill="none"/>
<circle cx="248.20" cy="109.70" r="4.37" fill="#ffee00" stroke="#000" stroke-width="1.3"/>
<path d="M292.80 102.20V117.20M288.00 102.20H297.60M288.00 117.20H297.60" stroke="#ff8800" stroke-width="1.6" fill="none"/>
<path d="M292.80 106.00L297.61 113.59L287.99 113.59Z" fill="#ffee00" stroke="#000" stroke-width="1.3" stroke-linejoin="miter"/>
<path d="M337.50 102.20V117.20M332.70 102.20H342.30M332.70 117.20H342.30" stroke="#ff8800" stroke-width="1.6" fill="none"/>
<path d="M337.50 113.40L342.31 105.81L332.69 105.81Z" fill="#ffee00" stroke="#000" stroke-width="1.3" stroke-linejoin="miter"/>
<path d="M382.00 102.20V117.20M377.20 102.20H386.80M377.20 117.20H386.80" stroke="#ff8800" stroke-width="1.6" fill="none"/>
<path d="M382.00 105.19L386.25 109.70L382.00 114.21L377.75 109.70Z" fill="#ffee00" stroke="#000" stroke-width="1.3"/>
<path d="M203.50 127.50V142.50M198.70 127.50H208.30M198.70 142.50H208.30" stroke="#1a9a1a" stroke-width="1.6" fill="none"/>
<rect x="199.80" y="131.30" width="7.40" height="7.40" fill="#00ff00" stroke="#000" stroke-width="1.3"/>
<path d="M248.20 127.50V142.50M243.40 127.50H253.00M243.40 142.50H253.00" stroke="#1a9a1a" stroke-width="1.6" fill="none"/>
<circle cx="248.20" cy="135.00" r="4.37" fill="#00ff00" stroke="#000" stroke-width="1.3"/>
<path d="M292.80 127.50V142.50M288.00 127.50H297.60M288.00 142.50H297.60" stroke="#1a9a1a" stroke-width="1.6" fill="none"/>
<path d="M292.80 131.30L297.61 138.88L287.99 138.88Z" fill="#00ff00" stroke="#000" stroke-width="1.3" stroke-linejoin="miter"/>
<path d="M337.50 127.50V142.50M332.70 127.50H342.30M332.70 142.50H342.30" stroke="#1a9a1a" stroke-width="1.6" fill="none"/>
<path d="M337.50 138.70L342.31 131.12L332.69 131.12Z" fill="#00ff00" stroke="#000" stroke-width="1.3" stroke-linejoin="miter"/>
<path d="M382.00 127.50V142.50M377.20 127.50H386.80M377.20 142.50H386.80" stroke="#1a9a1a" stroke-width="1.6" fill="none"/>
<path d="M382.00 130.49L386.25 135.00L382.00 139.51L377.75 135.00Z" fill="#00ff00" stroke="#000" stroke-width="1.3"/>
<path d="M203.50 152.70V167.70M198.70 152.70H208.30M198.70 167.70H208.30" stroke="#ff0000" stroke-width="1.6" fill="none"/>
<rect x="199.80" y="156.50" width="7.40" height="7.40" fill="#ff0000" stroke="#ff0000" stroke-width="1.3"/>
<path d="M248.20 152.70V167.70M243.40 152.70H253.00M243.40 167.70H253.00" stroke="#ff0000" stroke-width="1.6" fill="none"/>
<circle cx="248.20" cy="160.20" r="4.37" fill="#ff0000" stroke="#ff0000" stroke-width="1.3"/>
<path d="M292.80 152.70V167.70M288.00 152.70H297.60M288.00 167.70H297.60" stroke="#ff0000" stroke-width="1.6" fill="none"/>
<path d="M292.80 156.50L297.61 164.08L287.99 164.08Z" fill="#ff0000" stroke="#ff0000" stroke-width="1.3" stroke-linejoin="miter"/>
<path d="M337.50 152.70V167.70M332.70 152.70H342.30M332.70 167.70H342.30" stroke="#ff0000" stroke-width="1.6" fill="none"/>
<path d="M337.50 163.90L342.31 156.31L332.69 156.31Z" fill="#ff0000" stroke="#ff0000" stroke-width="1.3" stroke-linejoin="miter"/>
<path d="M382.00 152.70V167.70M377.20 152.70H386.80M377.20 167.70H386.80" stroke="#ff0000" stroke-width="1.6" fill="none"/>
<path d="M382.00 155.69L386.25 160.20L382.00 164.71L377.75 160.20Z" fill="#ff0000" stroke="#ff0000" stroke-width="1.3"/>
<path d="M341.6 316.8H380.0" stroke="#c4c4c4" stroke-width="0.4"/>
<path d="M341.6 316.8H380.0" stroke="#0000ff" stroke-width="5" stroke-dasharray="9.5 5" stroke-dashoffset="0"/>
<path d="M341.6 341.3H380.0" stroke="#ff8844" stroke-width="5"/>
<path d="M341.6 365.8H380.0" stroke="#c4c4c4" stroke-width="0.4"/>
<path d="M341.6 365.8H380.0" stroke="#00aa00" stroke-width="5" stroke-dasharray="5 4.7" stroke-dashoffset="3"/>
<path d="M341.6 389.8H380.0" stroke="#c4c4c4" stroke-width="0.4"/>
<path d="M341.6 389.8H380.0" stroke="#1a9ab0" stroke-width="5" stroke-dasharray="10 4.5 2.8 4.5" stroke-dashoffset="0"/>
<path d="M341.6 414.1H380.0" stroke="#c4c4c4" stroke-width="0.4"/>
<path d="M341.6 414.1H380.0" stroke="#000" stroke-width="5" stroke-dasharray="2.5 2.3" stroke-dashoffset="1.5"/>
</svg>
<div id="tx">
<div class="t" style="left:44.8px;top:425.1px;font-size:22px;transform-origin:100% 50%;transform:translateX(-100%) scaleX(0.9850);">0</div>
<div class="t" style="left:44.8px;top:356.2px;font-size:22px;transform-origin:100% 50%;transform:translateX(-100%) scaleX(0.9850);">2</div>
<div class="t" style="left:44.8px;top:285.3px;font-size:22px;transform-origin:100% 50%;transform:translateX(-100%) scaleX(0.9850);">4</div>
<div class="t" style="left:44.8px;top:214.3px;font-size:22px;transform-origin:100% 50%;transform:translateX(-100%) scaleX(0.9850);">6</div>
<div class="t" style="left:44.8px;top:143.3px;font-size:22px;transform-origin:100% 50%;transform:translateX(-100%) scaleX(0.9850);">8</div>
<div class="t" style="left:44.8px;top:72.4px;font-size:22px;transform-origin:100% 50%;transform:translateX(-100%) scaleX(0.9850);">10</div>
<div class="t" style="left:44.8px;top:4.4px;font-size:22px;transform-origin:100% 50%;transform:translateX(-100%) scaleX(0.9850);">12</div>
<div class="t" style="left:61.0px;top:444.2px;font-size:22px;transform-origin:50% 50%;transform:translateX(-50%) scaleX(0.9850);">0.0</div>
<div class="t" style="left:176.3px;top:444.2px;font-size:22px;transform-origin:50% 50%;transform:translateX(-50%) scaleX(0.9850);">0.01</div>
<div class="t" style="left:297.6px;top:444.2px;font-size:22px;transform-origin:50% 50%;transform:translateX(-50%) scaleX(0.9850);">0.02</div>
<div class="t" style="left:419.0px;top:444.2px;font-size:22px;transform-origin:50% 50%;transform:translateX(-50%) scaleX(0.9850);">0.03</div>
<div class="t" style="left:540.3px;top:444.2px;font-size:22px;transform-origin:50% 50%;transform:translateX(-50%) scaleX(0.9850);">0.04</div>
<div class="t" style="left:642.0px;top:444.2px;font-size:22px;transform-origin:50% 50%;transform:translateX(-50%) scaleX(0.9850);">0.05</div>
<div class="t" style="left:195.8px;top:467.6px;font-size:20px;transform-origin:0 50%;transform:scaleX(1.0710);">Normalized external pressure,</div>
<div class="t" style="left:458.6px;top:467.6px;font-size:20px;transform-origin:0 50%;transform:scaleX(1.2000);"><i>p</i></div>
<div class="t" style="left:468.8px;top:476.4px;font-size:15px;transform-origin:0 50%;transform:scaleX(1.0800);">0</div>
<div class="t" style="left:477.6px;top:465.6px;font-size:26px;transform-origin:0 50%;transform:scaleX(1.0000);"><i>/</i></div>
<div class="t" style="left:484.6px;top:467.6px;font-size:20px;transform-origin:0 50%;transform:scaleX(1.0000);"><i>E</i></div>
<div class="t" style="left:498.0px;top:466.9px;font-size:14px;transform-origin:0 50%;transform:scaleX(1.0000);">*</div>
<div class="t" style="left:17px;top:380.3px;font-size:20px;transform-origin:0 0;transform:rotate(-90deg) translateY(-16.75px) scaleX(1.069);">Real contact area fraction, <i>A</i>/<i>A</i><span class="sub">0</span> <i>%</i></div>
<div class="t" style="left:116.3px;top:18.6px;font-size:20px;transform-origin:50% 50%;transform:translateX(-50%) scaleX(1.1000);">Cutoffs</div>
<div class="t" style="left:291.5px;top:18.6px;font-size:20px;transform-origin:50% 50%;transform:translateX(-50%) scaleX(1.0780);">Hurst exponent</div>
<div class="t" style="left:67.6px;top:45.9px;font-size:20px;transform-origin:0 50%;transform:scaleX(1.1200);"><i>L</i></div>
<div class="t" style="left:86.1px;top:45.9px;font-size:20px;transform-origin:0 50%;transform:scaleX(1.0500);transform:scale(1.05,1.12);transform-origin:0 80%;"><i>/</i></div>
<div class="t" style="left:94.6px;top:45.9px;font-size:20px;transform-origin:0 50%;transform:scaleX(1.2000);">&lambda;</div>
<div class="t" style="left:106.9px;top:54.3px;font-size:14px;transform-origin:0 50%;transform:scaleX(1.1500);"><i>l</i></div>
<div class="t" style="left:127.2px;top:45.9px;font-size:20px;transform-origin:0 50%;transform:scaleX(1.1200);"><i>L</i></div>
<div class="t" style="left:145.7px;top:45.9px;font-size:20px;transform-origin:0 50%;transform:scaleX(1.0500);transform:scale(1.05,1.12);transform-origin:0 80%;"><i>/</i></div>
<div class="t" style="left:154.2px;top:45.9px;font-size:20px;transform-origin:0 50%;transform:scaleX(1.2000);">&lambda;</div>
<div class="t" style="left:166.1px;top:54.3px;font-size:14px;transform-origin:0 50%;transform:scaleX(1.1500);"><i>s</i></div>
<div class="t" style="left:203.3px;top:46.0px;font-size:20px;transform-origin:50% 50%;transform:translateX(-50%) scaleX(1.0000);">0.20</div>
<div class="t" style="left:248.0px;top:46.0px;font-size:20px;transform-origin:50% 50%;transform:translateX(-50%) scaleX(1.0000);">0.36</div>
<div class="t" style="left:292.6px;top:46.0px;font-size:20px;transform-origin:50% 50%;transform:translateX(-50%) scaleX(1.0000);">0.52</div>
<div class="t" style="left:337.3px;top:46.0px;font-size:20px;transform-origin:50% 50%;transform:translateX(-50%) scaleX(1.0000);">0.68</div>
<div class="t" style="left:381.8px;top:46.0px;font-size:20px;transform-origin:50% 50%;transform:translateX(-50%) scaleX(1.0000);">0.84</div>
<div class="t" style="left:86.6px;top:74.8px;font-size:20px;transform-origin:50% 50%;transform:translateX(-50%) scaleX(1.0780);"><i>16</i></div>
<div class="t" style="left:148.5px;top:74.8px;font-size:20px;transform-origin:50% 50%;transform:translateX(-50%) scaleX(1.0930);"><i>32</i></div>
<div class="t" style="left:86.6px;top:100.2px;font-size:20px;transform-origin:50% 50%;transform:translateX(-50%) scaleX(1.0780);"><i>16</i></div>
<div class="t" style="left:147.2px;top:100.2px;font-size:20px;transform-origin:50% 50%;transform:translateX(-50%) scaleX(1.0930);"><i>128</i></div>
<div class="t" style="left:89.5px;top:125.4px;font-size:20px;transform-origin:50% 50%;transform:translateX(-50%) scaleX(1.0780);"><i>1</i></div>
<div class="t" style="left:148.5px;top:125.4px;font-size:20px;transform-origin:50% 50%;transform:translateX(-50%) scaleX(1.0930);"><i>32</i></div>
<div class="t" style="left:89.5px;top:151.1px;font-size:20px;transform-origin:50% 50%;transform:translateX(-50%) scaleX(1.0780);"><i>1</i></div>
<div class="t" style="left:147.2px;top:151.1px;font-size:20px;transform-origin:50% 50%;transform:translateX(-50%) scaleX(1.0930);"><i>128</i></div>
<div class="t" style="left:387.0px;top:305.1px;font-size:20px;transform-origin:0 50%;transform:scaleX(1.0780);">Asymptotics, BGT [5]</div>
<div class="t" style="left:387.0px;top:329.6px;font-size:20px;transform-origin:0 50%;transform:scaleX(1.0780);">Contact evolution law, Eq. (2)</div>
<div class="t" style="left:387.0px;top:354.1px;font-size:20px;transform-origin:0 50%;transform:scaleX(1.0780);">Greenwood [18]</div>
<div class="t" style="left:387.0px;top:378.2px;font-size:20px;transform-origin:0 50%;transform:scaleX(1.0780);">BGT [5, 21]</div>
<div class="t" style="left:387.0px;top:402.6px;font-size:20px;transform-origin:0 50%;transform:scaleX(1.0780);">Asymptotics, Persson [23]</div>
</div>
</body></html>
